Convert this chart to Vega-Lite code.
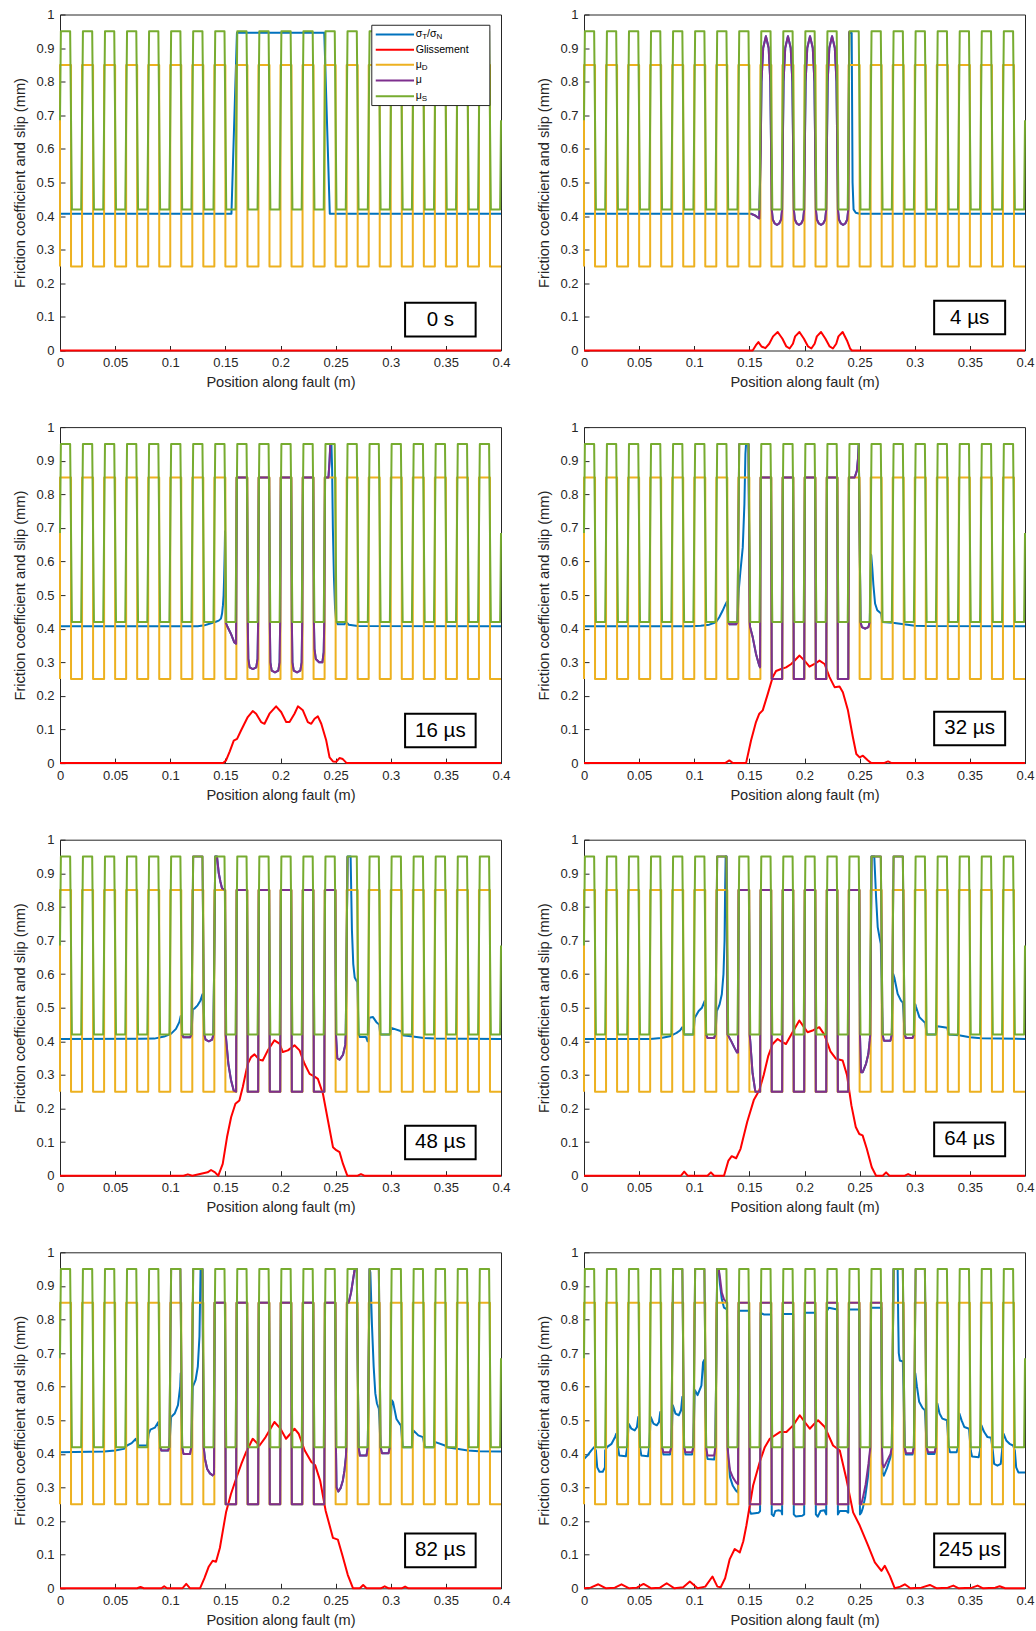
{
"$schema": "https://vega.github.io/schema/vega-lite/v6.json",
"padding": {"left": 12, "top": 7.5, "right": 0, "bottom": 0},
"background": "white",
"bounds": "flush",
"columns": 2,
"spacing": {"row": 76.6, "column": 83},
"datasets": {
"muS": [{"x":0,"y":0.685},
{"x":0.0008,"y":0.95},{"x":0.0092,"y":0.95},{"x":0.0108,"y":0.42},{"x":0.0192,"y":0.42},
{"x":0.0208,"y":0.95},{"x":0.0292,"y":0.95},{"x":0.0308,"y":0.42},{"x":0.0392,"y":0.42},
{"x":0.0408,"y":0.95},{"x":0.0492,"y":0.95},{"x":0.0508,"y":0.42},{"x":0.0592,"y":0.42},
{"x":0.0608,"y":0.95},{"x":0.0692,"y":0.95},{"x":0.0708,"y":0.42},{"x":0.0792,"y":0.42},
{"x":0.0808,"y":0.95},{"x":0.0892,"y":0.95},{"x":0.0908,"y":0.42},{"x":0.0992,"y":0.42},
{"x":0.1008,"y":0.95},{"x":0.1092,"y":0.95},{"x":0.1108,"y":0.42},{"x":0.1192,"y":0.42},
{"x":0.1208,"y":0.95},{"x":0.1292,"y":0.95},{"x":0.1308,"y":0.42},{"x":0.1392,"y":0.42},
{"x":0.1408,"y":0.95},{"x":0.1492,"y":0.95},{"x":0.1508,"y":0.42},{"x":0.1592,"y":0.42},
{"x":0.1608,"y":0.95},{"x":0.1692,"y":0.95},{"x":0.1708,"y":0.42},{"x":0.1792,"y":0.42},
{"x":0.1808,"y":0.95},{"x":0.1892,"y":0.95},{"x":0.1908,"y":0.42},{"x":0.1992,"y":0.42},
{"x":0.2008,"y":0.95},{"x":0.2092,"y":0.95},{"x":0.2108,"y":0.42},{"x":0.2192,"y":0.42},
{"x":0.2208,"y":0.95},{"x":0.2292,"y":0.95},{"x":0.2308,"y":0.42},{"x":0.2392,"y":0.42},
{"x":0.2408,"y":0.95},{"x":0.2492,"y":0.95},{"x":0.2508,"y":0.42},{"x":0.2592,"y":0.42},
{"x":0.2608,"y":0.95},{"x":0.2692,"y":0.95},{"x":0.2708,"y":0.42},{"x":0.2792,"y":0.42},
{"x":0.2808,"y":0.95},{"x":0.2892,"y":0.95},{"x":0.2908,"y":0.42},{"x":0.2992,"y":0.42},
{"x":0.3008,"y":0.95},{"x":0.3092,"y":0.95},{"x":0.3108,"y":0.42},{"x":0.3192,"y":0.42},
{"x":0.3208,"y":0.95},{"x":0.3292,"y":0.95},{"x":0.3308,"y":0.42},{"x":0.3392,"y":0.42},
{"x":0.3408,"y":0.95},{"x":0.3492,"y":0.95},{"x":0.3508,"y":0.42},{"x":0.3592,"y":0.42},
{"x":0.3608,"y":0.95},{"x":0.3692,"y":0.95},{"x":0.3708,"y":0.42},{"x":0.3792,"y":0.42},
{"x":0.3808,"y":0.95},{"x":0.3892,"y":0.95},{"x":0.3908,"y":0.42},{"x":0.3992,"y":0.42},
{"x":0.4,"y":0.685}],
"muD": [{"x":0,"y":0.25},{"x":0,"y":0.85},{"x":0.01,"y":0.85},{"x":0.01,"y":0.25},
{"x":0.02,"y":0.25},{"x":0.02,"y":0.85},{"x":0.03,"y":0.85},{"x":0.03,"y":0.25},
{"x":0.04,"y":0.25},{"x":0.04,"y":0.85},{"x":0.05,"y":0.85},{"x":0.05,"y":0.25},
{"x":0.06,"y":0.25},{"x":0.06,"y":0.85},{"x":0.07,"y":0.85},{"x":0.07,"y":0.25},
{"x":0.08,"y":0.25},{"x":0.08,"y":0.85},{"x":0.09,"y":0.85},{"x":0.09,"y":0.25},
{"x":0.1,"y":0.25},{"x":0.1,"y":0.85},{"x":0.11,"y":0.85},{"x":0.11,"y":0.25},
{"x":0.12,"y":0.25},{"x":0.12,"y":0.85},{"x":0.13,"y":0.85},{"x":0.13,"y":0.25},
{"x":0.14,"y":0.25},{"x":0.14,"y":0.85},{"x":0.15,"y":0.85},{"x":0.15,"y":0.25},
{"x":0.16,"y":0.25},{"x":0.16,"y":0.85},{"x":0.17,"y":0.85},{"x":0.17,"y":0.25},
{"x":0.18,"y":0.25},{"x":0.18,"y":0.85},{"x":0.19,"y":0.85},{"x":0.19,"y":0.25},
{"x":0.2,"y":0.25},{"x":0.2,"y":0.85},{"x":0.21,"y":0.85},{"x":0.21,"y":0.25},
{"x":0.22,"y":0.25},{"x":0.22,"y":0.85},{"x":0.23,"y":0.85},{"x":0.23,"y":0.25},
{"x":0.24,"y":0.25},{"x":0.24,"y":0.85},{"x":0.25,"y":0.85},{"x":0.25,"y":0.25},
{"x":0.26,"y":0.25},{"x":0.26,"y":0.85},{"x":0.27,"y":0.85},{"x":0.27,"y":0.25},
{"x":0.28,"y":0.25},{"x":0.28,"y":0.85},{"x":0.29,"y":0.85},{"x":0.29,"y":0.25},
{"x":0.3,"y":0.25},{"x":0.3,"y":0.85},{"x":0.31,"y":0.85},{"x":0.31,"y":0.25},
{"x":0.32,"y":0.25},{"x":0.32,"y":0.85},{"x":0.33,"y":0.85},{"x":0.33,"y":0.25},
{"x":0.34,"y":0.25},{"x":0.34,"y":0.85},{"x":0.35,"y":0.85},{"x":0.35,"y":0.25},
{"x":0.36,"y":0.25},{"x":0.36,"y":0.85},{"x":0.37,"y":0.85},{"x":0.37,"y":0.25},
{"x":0.38,"y":0.25},{"x":0.38,"y":0.85},{"x":0.39,"y":0.85},{"x":0.39,"y":0.25},
{"x":0.4,"y":0.25}],
"s1": [{"x":0,"y":0.407},{"x":0.1555,"y":0.407},{"x":0.1605,"y":0.946},{"x":0.2397,"y":0.946},{"x":0.2447,"y":0.407},{"x":0.4,"y":0.407}],
"r1": [{"x":0,"y":0},{"x":0.4,"y":0}],
"m2": [{"x":0.1515,"y":0.407},{"x":0.155,"y":0.402},{"x":0.159,"y":0.393},
{"x":0.1603,"y":0.6},{"x":0.161,"y":0.8},{"x":0.1625,"y":0.9},{"x":0.165,"y":0.935},{"x":0.1675,"y":0.9},{"x":0.169,"y":0.8},{"x":0.1697,"y":0.6},
{"x":0.1703,"y":0.42},{"x":0.1712,"y":0.39},{"x":0.173,"y":0.378},{"x":0.175,"y":0.374},{"x":0.177,"y":0.378},{"x":0.1788,"y":0.39},{"x":0.1797,"y":0.42},
{"x":0.1803,"y":0.6},{"x":0.181,"y":0.8},{"x":0.1825,"y":0.9},{"x":0.185,"y":0.935},{"x":0.1875,"y":0.9},{"x":0.189,"y":0.8},{"x":0.1897,"y":0.6},
{"x":0.1903,"y":0.42},{"x":0.1912,"y":0.39},{"x":0.193,"y":0.378},{"x":0.195,"y":0.374},{"x":0.197,"y":0.378},{"x":0.1988,"y":0.39},{"x":0.1997,"y":0.42},
{"x":0.2003,"y":0.6},{"x":0.201,"y":0.8},{"x":0.2025,"y":0.9},{"x":0.205,"y":0.935},{"x":0.2075,"y":0.9},{"x":0.209,"y":0.8},{"x":0.2097,"y":0.6},
{"x":0.2103,"y":0.42},{"x":0.2112,"y":0.39},{"x":0.213,"y":0.378},{"x":0.215,"y":0.374},{"x":0.217,"y":0.378},{"x":0.2188,"y":0.39},{"x":0.2197,"y":0.42},
{"x":0.2203,"y":0.6},{"x":0.221,"y":0.8},{"x":0.2225,"y":0.9},{"x":0.225,"y":0.935},{"x":0.2275,"y":0.9},{"x":0.229,"y":0.8},{"x":0.2297,"y":0.6},
{"x":0.2303,"y":0.42},{"x":0.2312,"y":0.39},{"x":0.233,"y":0.378},{"x":0.235,"y":0.374},{"x":0.237,"y":0.378},{"x":0.2388,"y":0.39},{"x":0.2397,"y":0.42},
{"x":0.2405,"y":0.95}],
"s2": [{"x":0,"y":0.407},{"x":0.1515,"y":0.407},{"x":0.155,"y":0.402},{"x":0.159,"y":0.393},
{"x":0.1603,"y":0.6},{"x":0.161,"y":0.8},{"x":0.1625,"y":0.9},{"x":0.165,"y":0.935},{"x":0.1675,"y":0.9},{"x":0.169,"y":0.8},{"x":0.1697,"y":0.6},
{"x":0.1703,"y":0.42},{"x":0.1712,"y":0.39},{"x":0.173,"y":0.378},{"x":0.175,"y":0.374},{"x":0.177,"y":0.378},{"x":0.1788,"y":0.39},{"x":0.1797,"y":0.42},
{"x":0.1803,"y":0.6},{"x":0.181,"y":0.8},{"x":0.1825,"y":0.9},{"x":0.185,"y":0.935},{"x":0.1875,"y":0.9},{"x":0.189,"y":0.8},{"x":0.1897,"y":0.6},
{"x":0.1903,"y":0.42},{"x":0.1912,"y":0.39},{"x":0.193,"y":0.378},{"x":0.195,"y":0.374},{"x":0.197,"y":0.378},{"x":0.1988,"y":0.39},{"x":0.1997,"y":0.42},
{"x":0.2003,"y":0.6},{"x":0.201,"y":0.8},{"x":0.2025,"y":0.9},{"x":0.205,"y":0.935},{"x":0.2075,"y":0.9},{"x":0.209,"y":0.8},{"x":0.2097,"y":0.6},
{"x":0.2103,"y":0.42},{"x":0.2112,"y":0.39},{"x":0.213,"y":0.378},{"x":0.215,"y":0.374},{"x":0.217,"y":0.378},{"x":0.2188,"y":0.39},{"x":0.2197,"y":0.42},
{"x":0.2203,"y":0.6},{"x":0.221,"y":0.8},{"x":0.2225,"y":0.9},{"x":0.225,"y":0.935},{"x":0.2275,"y":0.9},{"x":0.229,"y":0.8},{"x":0.2297,"y":0.6},
{"x":0.2303,"y":0.42},{"x":0.2312,"y":0.39},{"x":0.233,"y":0.378},{"x":0.235,"y":0.374},{"x":0.237,"y":0.378},{"x":0.2388,"y":0.39},{"x":0.2397,"y":0.42},
{"x":0.2405,"y":0.945},{"x":0.2428,"y":0.945},{"x":0.2436,"y":0.5},{"x":0.2445,"y":0.42},{"x":0.2465,"y":0.41},{"x":0.25,"y":0.407},{"x":0.4,"y":0.407}],
"r2": [{"x":0,"y":0},{"x":0.153,"y":0},{"x":0.1558,"y":0.015},{"x":0.1582,"y":0.025},{"x":0.161,"y":0.012},{"x":0.1645,"y":0.007},{"x":0.168,"y":0.02},{"x":0.1715,"y":0.042},{"x":0.1757,"y":0.055},{"x":0.18,"y":0.035},{"x":0.1835,"y":0.012},{"x":0.1865,"y":0.006},{"x":0.1895,"y":0.02},{"x":0.1915,"y":0.042},{"x":0.1954,"y":0.055},{"x":0.1995,"y":0.035},{"x":0.2032,"y":0.012},{"x":0.2062,"y":0.006},{"x":0.2092,"y":0.02},{"x":0.2112,"y":0.042},{"x":0.215,"y":0.055},{"x":0.219,"y":0.035},{"x":0.2228,"y":0.012},{"x":0.2258,"y":0.006},{"x":0.2288,"y":0.02},{"x":0.2308,"y":0.042},{"x":0.2346,"y":0.055},{"x":0.2385,"y":0.03},{"x":0.2415,"y":0.005},{"x":0.243,"y":0},{"x":0.4,"y":0}],
"m3": [{"x":0.1503,"y":0.418},{"x":0.152,"y":0.405},{"x":0.155,"y":0.385},{"x":0.158,"y":0.36},{"x":0.1597,"y":0.355},
{"x":0.1603,"y":0.85},{"x":0.1697,"y":0.85},
{"x":0.1703,"y":0.42},{"x":0.1708,"y":0.31},{"x":0.172,"y":0.285},{"x":0.175,"y":0.28},{"x":0.178,"y":0.285},{"x":0.1792,"y":0.31},{"x":0.1797,"y":0.42},
{"x":0.1803,"y":0.85},{"x":0.1897,"y":0.85},
{"x":0.1903,"y":0.42},{"x":0.1908,"y":0.3},{"x":0.192,"y":0.275},{"x":0.195,"y":0.27},{"x":0.198,"y":0.275},{"x":0.1992,"y":0.3},{"x":0.1997,"y":0.42},
{"x":0.2003,"y":0.85},{"x":0.2097,"y":0.85},
{"x":0.2103,"y":0.42},{"x":0.2108,"y":0.3},{"x":0.212,"y":0.275},{"x":0.215,"y":0.27},{"x":0.218,"y":0.275},{"x":0.2192,"y":0.3},{"x":0.2197,"y":0.42},
{"x":0.2203,"y":0.85},{"x":0.2297,"y":0.85},
{"x":0.2303,"y":0.42},{"x":0.2308,"y":0.34},{"x":0.232,"y":0.31},{"x":0.235,"y":0.3},{"x":0.238,"y":0.3},{"x":0.2392,"y":0.33},{"x":0.2397,"y":0.42},
{"x":0.2403,"y":0.85},{"x":0.2435,"y":0.85},{"x":0.2445,"y":0.9},{"x":0.2452,"y":0.95}],
"s3": [{"x":0,"y":0.407},{"x":0.125,"y":0.407},{"x":0.131,"y":0.41},{"x":0.137,"y":0.416},{"x":0.1408,"y":0.42},{"x":0.144,"y":0.424},{"x":0.146,"y":0.43},{"x":0.147,"y":0.445},{"x":0.1478,"y":0.47},{"x":0.1484,"y":0.5},{"x":0.1488,"y":0.543},{"x":0.1492,"y":0.6},{"x":0.1495,"y":0.65},{"x":0.1497,"y":0.69},
{"x":0.1503,"y":0.418},{"x":0.152,"y":0.405},{"x":0.155,"y":0.385},{"x":0.158,"y":0.36},{"x":0.1597,"y":0.355},
{"x":0.1603,"y":0.85},{"x":0.1697,"y":0.85},
{"x":0.1703,"y":0.42},{"x":0.1708,"y":0.31},{"x":0.172,"y":0.285},{"x":0.175,"y":0.28},{"x":0.178,"y":0.285},{"x":0.1792,"y":0.31},{"x":0.1797,"y":0.42},
{"x":0.1803,"y":0.85},{"x":0.1897,"y":0.85},
{"x":0.1903,"y":0.42},{"x":0.1908,"y":0.3},{"x":0.192,"y":0.275},{"x":0.195,"y":0.27},{"x":0.198,"y":0.275},{"x":0.1992,"y":0.3},{"x":0.1997,"y":0.42},
{"x":0.2003,"y":0.85},{"x":0.2097,"y":0.85},
{"x":0.2103,"y":0.42},{"x":0.2108,"y":0.3},{"x":0.212,"y":0.275},{"x":0.215,"y":0.27},{"x":0.218,"y":0.275},{"x":0.2192,"y":0.3},{"x":0.2197,"y":0.42},
{"x":0.2203,"y":0.85},{"x":0.2297,"y":0.85},
{"x":0.2303,"y":0.42},{"x":0.2308,"y":0.34},{"x":0.232,"y":0.31},{"x":0.235,"y":0.3},{"x":0.238,"y":0.3},{"x":0.2392,"y":0.33},{"x":0.2397,"y":0.42},
{"x":0.2403,"y":0.85},{"x":0.2435,"y":0.85},{"x":0.2445,"y":0.9},{"x":0.2452,"y":0.95},
{"x":0.2462,"y":0.95},{"x":0.2468,"y":0.88},{"x":0.2475,"y":0.7},{"x":0.2485,"y":0.55},{"x":0.2495,"y":0.46},{"x":0.2505,"y":0.42},{"x":0.252,"y":0.413},{"x":0.258,"y":0.413},{"x":0.2595,"y":0.42},{"x":0.262,"y":0.412},{"x":0.27,"y":0.408},{"x":0.4,"y":0.407}],
"r3": [{"x":0,"y":0},{"x":0.148,"y":0},{"x":0.1506,"y":0.008},{"x":0.154,"y":0.035},{"x":0.1576,"y":0.067},{"x":0.1606,"y":0.072},{"x":0.1642,"y":0.097},{"x":0.1703,"y":0.137},{"x":0.1748,"y":0.155},{"x":0.1779,"y":0.147},{"x":0.1824,"y":0.122},{"x":0.1855,"y":0.117},{"x":0.19,"y":0.147},{"x":0.196,"y":0.169},{"x":0.2006,"y":0.152},{"x":0.2052,"y":0.122},{"x":0.2082,"y":0.122},{"x":0.2127,"y":0.147},{"x":0.2158,"y":0.169},{"x":0.2203,"y":0.157},{"x":0.2248,"y":0.122},{"x":0.2279,"y":0.117},{"x":0.2309,"y":0.132},{"x":0.2339,"y":0.139},{"x":0.237,"y":0.117},{"x":0.2415,"y":0.067},{"x":0.2445,"y":0.017},{"x":0.2476,"y":0.005},{"x":0.2505,"y":0.004},{"x":0.2535,"y":0.015},{"x":0.2565,"y":0.012},{"x":0.26,"y":0},{"x":0.4,"y":0}],
"m4": [{"x":0.1308,"y":0.42},{"x":0.132,"y":0.413},{"x":0.138,"y":0.413},{"x":0.1392,"y":0.42},{"x":0.1408,"y":0.95},{"x":0.1492,"y":0.95},
{"x":0.1503,"y":0.42},{"x":0.1506,"y":0.405},{"x":0.153,"y":0.375},{"x":0.156,"y":0.325},{"x":0.159,"y":0.29},{"x":0.1597,"y":0.285},
{"x":0.1603,"y":0.85},{"x":0.1697,"y":0.85},{"x":0.1703,"y":0.25},{"x":0.1797,"y":0.25},
{"x":0.1803,"y":0.85},{"x":0.1897,"y":0.85},{"x":0.1903,"y":0.25},{"x":0.1997,"y":0.25},
{"x":0.2003,"y":0.85},{"x":0.2097,"y":0.85},{"x":0.2103,"y":0.25},{"x":0.2197,"y":0.25},
{"x":0.2203,"y":0.85},{"x":0.2297,"y":0.85},{"x":0.2303,"y":0.25},{"x":0.2397,"y":0.25},
{"x":0.2403,"y":0.85},{"x":0.2455,"y":0.85},{"x":0.2475,"y":0.87},{"x":0.2485,"y":0.905},{"x":0.2492,"y":0.95},
{"x":0.2508,"y":0.42},{"x":0.252,"y":0.405},{"x":0.255,"y":0.4},{"x":0.258,"y":0.405},{"x":0.2592,"y":0.42}],
"s4": [{"x":0,"y":0.407},{"x":0.097,"y":0.4075},{"x":0.106,"y":0.409},{"x":0.1136,"y":0.412},{"x":0.1197,"y":0.419},{"x":0.1227,"y":0.434},{"x":0.1258,"y":0.454},{"x":0.128,"y":0.47},{"x":0.1295,"y":0.48},{"x":0.1308,"y":0.42},{"x":0.132,"y":0.413},{"x":0.138,"y":0.413},{"x":0.1392,"y":0.42},{"x":0.1405,"y":0.52},{"x":0.1418,"y":0.568},{"x":0.144,"y":0.642},{"x":0.1455,"y":0.772},{"x":0.1464,"y":0.92},{"x":0.147,"y":0.95},{"x":0.1492,"y":0.95},
{"x":0.1503,"y":0.42},{"x":0.1506,"y":0.405},{"x":0.153,"y":0.375},{"x":0.156,"y":0.325},{"x":0.159,"y":0.29},{"x":0.1597,"y":0.285},
{"x":0.1603,"y":0.85},{"x":0.1697,"y":0.85},{"x":0.1703,"y":0.25},{"x":0.1797,"y":0.25},
{"x":0.1803,"y":0.85},{"x":0.1897,"y":0.85},{"x":0.1903,"y":0.25},{"x":0.1997,"y":0.25},
{"x":0.2003,"y":0.85},{"x":0.2097,"y":0.85},{"x":0.2103,"y":0.25},{"x":0.2197,"y":0.25},
{"x":0.2203,"y":0.85},{"x":0.2297,"y":0.85},{"x":0.2303,"y":0.25},{"x":0.2397,"y":0.25},
{"x":0.2403,"y":0.85},{"x":0.2455,"y":0.85},{"x":0.2475,"y":0.87},{"x":0.2485,"y":0.905},{"x":0.2492,"y":0.95},
{"x":0.2508,"y":0.42},{"x":0.252,"y":0.405},{"x":0.255,"y":0.4},{"x":0.258,"y":0.405},{"x":0.2592,"y":0.42},
{"x":0.2605,"y":0.62},{"x":0.2615,"y":0.58},{"x":0.2625,"y":0.53},{"x":0.264,"y":0.475},{"x":0.266,"y":0.455},{"x":0.2695,"y":0.445},{"x":0.2705,"y":0.42},{"x":0.28,"y":0.418},{"x":0.29,"y":0.413},{"x":0.3,"y":0.409},{"x":0.31,"y":0.408},{"x":0.4,"y":0.407}],
"r4": [{"x":0,"y":0},{"x":0.128,"y":0},{"x":0.1318,"y":0.008},{"x":0.135,"y":0},{"x":0.147,"y":0},{"x":0.1515,"y":0.067},{"x":0.156,"y":0.122},{"x":0.159,"y":0.147},{"x":0.1621,"y":0.157},{"x":0.1667,"y":0.206},{"x":0.1712,"y":0.256},{"x":0.1742,"y":0.274},{"x":0.1788,"y":0.28},{"x":0.1833,"y":0.285},{"x":0.188,"y":0.295},{"x":0.1924,"y":0.31},{"x":0.1955,"y":0.32},{"x":0.2,"y":0.305},{"x":0.2045,"y":0.287},{"x":0.2091,"y":0.295},{"x":0.2136,"y":0.305},{"x":0.2182,"y":0.295},{"x":0.2227,"y":0.256},{"x":0.2273,"y":0.226},{"x":0.2318,"y":0.228},{"x":0.2348,"y":0.211},{"x":0.2394,"y":0.157},{"x":0.2439,"y":0.077},{"x":0.247,"y":0.027},{"x":0.25,"y":0.017},{"x":0.253,"y":0.022},{"x":0.2576,"y":0.008},{"x":0.2606,"y":0},{"x":0.272,"y":0},{"x":0.2758,"y":0.005},{"x":0.279,"y":0},{"x":0.4,"y":0}],
"m5": [{"x":0.1108,"y":0.42},{"x":0.112,"y":0.412},{"x":0.118,"y":0.412},{"x":0.1192,"y":0.42},{"x":0.1208,"y":0.95},{"x":0.1292,"y":0.95},{"x":0.1308,"y":0.42},{"x":0.132,"y":0.405},{"x":0.135,"y":0.4},{"x":0.138,"y":0.405},{"x":0.1392,"y":0.42},{"x":0.1408,"y":0.95},{"x":0.1424,"y":0.95},{"x":0.144,"y":0.9},{"x":0.1455,"y":0.875},{"x":0.147,"y":0.855},{"x":0.1497,"y":0.85},
{"x":0.1503,"y":0.42},{"x":0.1527,"y":0.333},{"x":0.1552,"y":0.283},{"x":0.1576,"y":0.253},{"x":0.1597,"y":0.25},
{"x":0.1603,"y":0.85},{"x":0.1697,"y":0.85},{"x":0.1703,"y":0.25},{"x":0.1797,"y":0.25},
{"x":0.1803,"y":0.85},{"x":0.1897,"y":0.85},{"x":0.1903,"y":0.25},{"x":0.1997,"y":0.25},
{"x":0.2003,"y":0.85},{"x":0.2097,"y":0.85},{"x":0.2103,"y":0.25},{"x":0.2197,"y":0.25},
{"x":0.2203,"y":0.85},{"x":0.2297,"y":0.85},{"x":0.2303,"y":0.25},{"x":0.2397,"y":0.25},
{"x":0.2403,"y":0.85},{"x":0.2497,"y":0.85},
{"x":0.2503,"y":0.42},{"x":0.2515,"y":0.35},{"x":0.2536,"y":0.345},{"x":0.2567,"y":0.36},{"x":0.2588,"y":0.39},{"x":0.2592,"y":0.42},{"x":0.2608,"y":0.95}],
"s5": [{"x":0,"y":0.407},{"x":0.0733,"y":0.4075},{"x":0.0855,"y":0.408},{"x":0.0945,"y":0.414},{"x":0.1006,"y":0.422},{"x":0.1052,"y":0.437},{"x":0.1082,"y":0.457},{"x":0.1095,"y":0.475},{"x":0.1108,"y":0.42},{"x":0.112,"y":0.412},{"x":0.118,"y":0.412},{"x":0.1192,"y":0.42},{"x":0.1205,"y":0.495},{"x":0.1218,"y":0.497},{"x":0.1248,"y":0.507},{"x":0.1273,"y":0.521},{"x":0.1292,"y":0.54},{"x":0.1308,"y":0.42},{"x":0.132,"y":0.405},{"x":0.135,"y":0.4},{"x":0.138,"y":0.405},{"x":0.1392,"y":0.42},{"x":0.1408,"y":0.95},{"x":0.1424,"y":0.95},{"x":0.144,"y":0.9},{"x":0.1455,"y":0.875},{"x":0.147,"y":0.855},{"x":0.1497,"y":0.85},
{"x":0.1503,"y":0.42},{"x":0.1527,"y":0.333},{"x":0.1552,"y":0.283},{"x":0.1576,"y":0.253},{"x":0.1597,"y":0.25},
{"x":0.1603,"y":0.85},{"x":0.1697,"y":0.85},{"x":0.1703,"y":0.25},{"x":0.1797,"y":0.25},
{"x":0.1803,"y":0.85},{"x":0.1897,"y":0.85},{"x":0.1903,"y":0.25},{"x":0.1997,"y":0.25},
{"x":0.2003,"y":0.85},{"x":0.2097,"y":0.85},{"x":0.2103,"y":0.25},{"x":0.2197,"y":0.25},
{"x":0.2203,"y":0.85},{"x":0.2297,"y":0.85},{"x":0.2303,"y":0.25},{"x":0.2397,"y":0.25},
{"x":0.2403,"y":0.85},{"x":0.2497,"y":0.85},
{"x":0.2503,"y":0.42},{"x":0.2515,"y":0.35},{"x":0.2536,"y":0.345},{"x":0.2567,"y":0.36},{"x":0.2588,"y":0.39},{"x":0.2592,"y":0.42},{"x":0.2608,"y":0.95},
{"x":0.2636,"y":0.95},{"x":0.2648,"y":0.73},{"x":0.266,"y":0.63},{"x":0.2673,"y":0.59},{"x":0.2697,"y":0.576},{"x":0.2708,"y":0.42},{"x":0.272,"y":0.413},{"x":0.2775,"y":0.413},{"x":0.279,"y":0.4},{"x":0.2797,"y":0.4},{"x":0.2805,"y":0.47},{"x":0.2839,"y":0.472},{"x":0.287,"y":0.457},{"x":0.2895,"y":0.45},{"x":0.2905,"y":0.42},{"x":0.2995,"y":0.42},{"x":0.3005,"y":0.44},{"x":0.3095,"y":0.43},{"x":0.3105,"y":0.418},{"x":0.32,"y":0.414},{"x":0.33,"y":0.41},{"x":0.34,"y":0.408},{"x":0.4,"y":0.407}],
"r5": [{"x":0,"y":0},{"x":0.112,"y":0},{"x":0.116,"y":0.004},{"x":0.12,"y":0},{"x":0.1339,"y":0.01},{"x":0.137,"y":0.017},{"x":0.1406,"y":0.01},{"x":0.1436,"y":0},{"x":0.1476,"y":0.035},{"x":0.1515,"y":0.115},{"x":0.1552,"y":0.174},{"x":0.1591,"y":0.214},{"x":0.1627,"y":0.224},{"x":0.1658,"y":0.264},{"x":0.1703,"y":0.333},{"x":0.1733,"y":0.353},{"x":0.1764,"y":0.361},{"x":0.1809,"y":0.345},{"x":0.1839,"y":0.343},{"x":0.1885,"y":0.373},{"x":0.1945,"y":0.403},{"x":0.1991,"y":0.393},{"x":0.2021,"y":0.368},{"x":0.2067,"y":0.373},{"x":0.2127,"y":0.388},{"x":0.2173,"y":0.373},{"x":0.2218,"y":0.333},{"x":0.2264,"y":0.303},{"x":0.2309,"y":0.295},{"x":0.2339,"y":0.288},{"x":0.2385,"y":0.244},{"x":0.243,"y":0.165},{"x":0.2476,"y":0.085},{"x":0.2506,"y":0.076},{"x":0.2536,"y":0.07},{"x":0.2567,"y":0.035},{"x":0.2606,"y":0},{"x":0.27,"y":0},{"x":0.273,"y":0.005},{"x":0.276,"y":0},{"x":0.4,"y":0}],
"m6": [{"x":0.1108,"y":0.42},{"x":0.112,"y":0.41},{"x":0.118,"y":0.41},{"x":0.1192,"y":0.42},{"x":0.1208,"y":0.95},{"x":0.1292,"y":0.95},
{"x":0.1302,"y":0.42},{"x":0.1333,"y":0.402},{"x":0.1363,"y":0.382},{"x":0.1387,"y":0.367},{"x":0.1397,"y":0.367},
{"x":0.1403,"y":0.85},{"x":0.1497,"y":0.85},
{"x":0.1503,"y":0.42},{"x":0.1508,"y":0.4},{"x":0.1529,"y":0.305},{"x":0.1554,"y":0.25},{"x":0.1597,"y":0.25},
{"x":0.1603,"y":0.85},{"x":0.1697,"y":0.85},{"x":0.1703,"y":0.25},{"x":0.1797,"y":0.25},
{"x":0.1803,"y":0.85},{"x":0.1897,"y":0.85},{"x":0.1903,"y":0.25},{"x":0.1997,"y":0.25},
{"x":0.2003,"y":0.85},{"x":0.2097,"y":0.85},{"x":0.2103,"y":0.25},{"x":0.2197,"y":0.25},
{"x":0.2203,"y":0.85},{"x":0.2297,"y":0.85},{"x":0.2303,"y":0.25},{"x":0.2397,"y":0.25},
{"x":0.2403,"y":0.85},{"x":0.2497,"y":0.85},
{"x":0.2503,"y":0.42},{"x":0.2512,"y":0.308},{"x":0.2528,"y":0.308},{"x":0.2558,"y":0.333},{"x":0.2579,"y":0.362},{"x":0.2592,"y":0.402},{"x":0.2596,"y":0.42},{"x":0.2608,"y":0.95},{"x":0.2692,"y":0.95},{"x":0.2708,"y":0.42},{"x":0.272,"y":0.402},{"x":0.278,"y":0.402},{"x":0.2792,"y":0.42},{"x":0.2808,"y":0.95},{"x":0.2892,"y":0.95},{"x":0.2908,"y":0.42},{"x":0.292,"y":0.41},{"x":0.298,"y":0.41},{"x":0.2992,"y":0.42}],
"s6": [{"x":0,"y":0.407},{"x":0.06,"y":0.407},{"x":0.07,"y":0.41},{"x":0.078,"y":0.415},{"x":0.0808,"y":0.42},{"x":0.084,"y":0.425},{"x":0.087,"y":0.432},{"x":0.0892,"y":0.442},{"x":0.0908,"y":0.42},{"x":0.0992,"y":0.42},{"x":0.1005,"y":0.47},{"x":0.104,"y":0.49},{"x":0.107,"y":0.5},{"x":0.1095,"y":0.52},{"x":0.1108,"y":0.42},{"x":0.112,"y":0.41},{"x":0.118,"y":0.41},{"x":0.1192,"y":0.42},{"x":0.1205,"y":0.49},{"x":0.123,"y":0.51},{"x":0.125,"y":0.54},{"x":0.1265,"y":0.6},{"x":0.1275,"y":0.7},{"x":0.128,"y":0.85},{"x":0.1285,"y":0.95},{"x":0.1292,"y":0.95},
{"x":0.1302,"y":0.42},{"x":0.1333,"y":0.402},{"x":0.1363,"y":0.382},{"x":0.1387,"y":0.367},{"x":0.1397,"y":0.367},
{"x":0.1403,"y":0.85},{"x":0.1497,"y":0.85},
{"x":0.1503,"y":0.42},{"x":0.1508,"y":0.4},{"x":0.1529,"y":0.305},{"x":0.1554,"y":0.25},{"x":0.1597,"y":0.25},
{"x":0.1603,"y":0.85},{"x":0.1697,"y":0.85},{"x":0.1703,"y":0.25},{"x":0.1797,"y":0.25},
{"x":0.1803,"y":0.85},{"x":0.1897,"y":0.85},{"x":0.1903,"y":0.25},{"x":0.1997,"y":0.25},
{"x":0.2003,"y":0.85},{"x":0.2097,"y":0.85},{"x":0.2103,"y":0.25},{"x":0.2197,"y":0.25},
{"x":0.2203,"y":0.85},{"x":0.2297,"y":0.85},{"x":0.2303,"y":0.25},{"x":0.2397,"y":0.25},
{"x":0.2403,"y":0.85},{"x":0.2497,"y":0.85},
{"x":0.2503,"y":0.42},{"x":0.2512,"y":0.308},{"x":0.2528,"y":0.308},{"x":0.2558,"y":0.333},{"x":0.2579,"y":0.362},{"x":0.2592,"y":0.402},{"x":0.2596,"y":0.42},{"x":0.2608,"y":0.95},
{"x":0.2633,"y":0.95},{"x":0.2649,"y":0.83},{"x":0.2664,"y":0.74},{"x":0.268,"y":0.71},{"x":0.2692,"y":0.69},{"x":0.2708,"y":0.42},{"x":0.272,"y":0.402},{"x":0.278,"y":0.402},{"x":0.2792,"y":0.42},{"x":0.2805,"y":0.6},{"x":0.2815,"y":0.59},{"x":0.2845,"y":0.541},{"x":0.2875,"y":0.521},{"x":0.2892,"y":0.515},{"x":0.2908,"y":0.42},{"x":0.292,"y":0.41},{"x":0.298,"y":0.41},{"x":0.2992,"y":0.42},{"x":0.3005,"y":0.51},{"x":0.3012,"y":0.502},{"x":0.3042,"y":0.472},{"x":0.3087,"y":0.457},{"x":0.3095,"y":0.455},{"x":0.3108,"y":0.42},{"x":0.3192,"y":0.42},{"x":0.3205,"y":0.445},{"x":0.3295,"y":0.44},{"x":0.3308,"y":0.42},{"x":0.34,"y":0.418},{"x":0.35,"y":0.412},{"x":0.36,"y":0.409},{"x":0.4,"y":0.407}],
"r6": [{"x":0,"y":0},{"x":0.088,"y":0},{"x":0.0909,"y":0.012},{"x":0.094,"y":0},{"x":0.112,"y":0},{"x":0.1151,"y":0.01},{"x":0.118,"y":0},{"x":0.127,"y":0},{"x":0.131,"y":0.045},{"x":0.134,"y":0.058},{"x":0.138,"y":0.052},{"x":0.142,"y":0.08},{"x":0.148,"y":0.16},{"x":0.154,"y":0.225},{"x":0.159,"y":0.254},{"x":0.163,"y":0.3},{"x":0.167,"y":0.355},{"x":0.1711,"y":0.392},{"x":0.1756,"y":0.407},{"x":0.1795,"y":0.398},{"x":0.1832,"y":0.392},{"x":0.188,"y":0.42},{"x":0.1953,"y":0.462},{"x":0.2,"y":0.44},{"x":0.2028,"y":0.427},{"x":0.208,"y":0.433},{"x":0.2134,"y":0.442},{"x":0.218,"y":0.42},{"x":0.2235,"y":0.37},{"x":0.2286,"y":0.348},{"x":0.2346,"y":0.343},{"x":0.2385,"y":0.3},{"x":0.2425,"y":0.21},{"x":0.2465,"y":0.145},{"x":0.2497,"y":0.124},{"x":0.2527,"y":0.12},{"x":0.2565,"y":0.08},{"x":0.261,"y":0.025},{"x":0.2649,"y":0},{"x":0.271,"y":0},{"x":0.274,"y":0.01},{"x":0.277,"y":0},{"x":0.291,"y":0},{"x":0.294,"y":0.005},{"x":0.297,"y":0},{"x":0.4,"y":0}],
"m7": [{"x":0.0908,"y":0.42},{"x":0.092,"y":0.41},{"x":0.098,"y":0.41},{"x":0.0992,"y":0.42},{"x":0.1008,"y":0.95},{"x":0.1092,"y":0.95},{"x":0.1108,"y":0.42},{"x":0.112,"y":0.4},{"x":0.118,"y":0.4},{"x":0.1192,"y":0.42},{"x":0.1208,"y":0.95},{"x":0.1292,"y":0.95},
{"x":0.1303,"y":0.42},{"x":0.1315,"y":0.385},{"x":0.1335,"y":0.355},{"x":0.136,"y":0.342},{"x":0.1385,"y":0.336},{"x":0.1397,"y":0.34},
{"x":0.1403,"y":0.85},{"x":0.1497,"y":0.85},{"x":0.1503,"y":0.25},{"x":0.1597,"y":0.25},
{"x":0.1603,"y":0.85},{"x":0.1697,"y":0.85},{"x":0.1703,"y":0.25},{"x":0.1797,"y":0.25},
{"x":0.1803,"y":0.85},{"x":0.1897,"y":0.85},{"x":0.1903,"y":0.25},{"x":0.1997,"y":0.25},
{"x":0.2003,"y":0.85},{"x":0.2097,"y":0.85},{"x":0.2103,"y":0.25},{"x":0.2197,"y":0.25},
{"x":0.2203,"y":0.85},{"x":0.2297,"y":0.85},{"x":0.2303,"y":0.25},{"x":0.2397,"y":0.25},
{"x":0.2403,"y":0.85},{"x":0.2497,"y":0.85},
{"x":0.2503,"y":0.42},{"x":0.2508,"y":0.3},{"x":0.2525,"y":0.288},{"x":0.2545,"y":0.298},{"x":0.2565,"y":0.32},{"x":0.258,"y":0.35},{"x":0.2593,"y":0.39},{"x":0.2597,"y":0.42},
{"x":0.2603,"y":0.85},{"x":0.2618,"y":0.85},{"x":0.264,"y":0.88},{"x":0.2673,"y":0.95},{"x":0.2692,"y":0.95},
{"x":0.2708,"y":0.42},{"x":0.272,"y":0.395},{"x":0.278,"y":0.395},{"x":0.2792,"y":0.42},{"x":0.2808,"y":0.95},{"x":0.2892,"y":0.95},{"x":0.2908,"y":0.42},{"x":0.292,"y":0.402},{"x":0.298,"y":0.402},{"x":0.2992,"y":0.42}],
"s7": [{"x":0,"y":0.405},{"x":0.04,"y":0.407},{"x":0.05,"y":0.41},{"x":0.058,"y":0.415},{"x":0.0608,"y":0.425},{"x":0.065,"y":0.432},{"x":0.0688,"y":0.445},{"x":0.0708,"y":0.425},{"x":0.0792,"y":0.425},{"x":0.0805,"y":0.46},{"x":0.082,"y":0.472},{"x":0.086,"y":0.478},{"x":0.0892,"y":0.495},{"x":0.0908,"y":0.42},{"x":0.092,"y":0.41},{"x":0.098,"y":0.41},{"x":0.0992,"y":0.42},{"x":0.1008,"y":0.51},{"x":0.104,"y":0.52},{"x":0.107,"y":0.545},{"x":0.109,"y":0.6},{"x":0.1095,"y":0.64},{"x":0.1108,"y":0.42},{"x":0.112,"y":0.4},{"x":0.118,"y":0.4},{"x":0.1192,"y":0.42},{"x":0.1205,"y":0.6},{"x":0.123,"y":0.62},{"x":0.125,"y":0.66},{"x":0.1265,"y":0.75},{"x":0.127,"y":0.85},{"x":0.1275,"y":0.95},{"x":0.1292,"y":0.95},
{"x":0.1303,"y":0.42},{"x":0.1315,"y":0.385},{"x":0.1335,"y":0.355},{"x":0.136,"y":0.342},{"x":0.1385,"y":0.336},{"x":0.1397,"y":0.34},
{"x":0.1403,"y":0.85},{"x":0.1497,"y":0.85},{"x":0.1503,"y":0.25},{"x":0.1597,"y":0.25},
{"x":0.1603,"y":0.85},{"x":0.1697,"y":0.85},{"x":0.1703,"y":0.25},{"x":0.1797,"y":0.25},
{"x":0.1803,"y":0.85},{"x":0.1897,"y":0.85},{"x":0.1903,"y":0.25},{"x":0.1997,"y":0.25},
{"x":0.2003,"y":0.85},{"x":0.2097,"y":0.85},{"x":0.2103,"y":0.25},{"x":0.2197,"y":0.25},
{"x":0.2203,"y":0.85},{"x":0.2297,"y":0.85},{"x":0.2303,"y":0.25},{"x":0.2397,"y":0.25},
{"x":0.2403,"y":0.85},{"x":0.2497,"y":0.85},
{"x":0.2503,"y":0.42},{"x":0.2508,"y":0.3},{"x":0.2525,"y":0.288},{"x":0.2545,"y":0.298},{"x":0.2565,"y":0.32},{"x":0.258,"y":0.35},{"x":0.2593,"y":0.39},{"x":0.2597,"y":0.42},
{"x":0.2603,"y":0.85},{"x":0.2618,"y":0.85},{"x":0.264,"y":0.88},{"x":0.2673,"y":0.95},{"x":0.2692,"y":0.95},
{"x":0.2708,"y":0.42},{"x":0.272,"y":0.395},{"x":0.278,"y":0.395},{"x":0.2792,"y":0.42},{"x":0.2808,"y":0.95},{"x":0.2815,"y":0.94},{"x":0.283,"y":0.78},{"x":0.2845,"y":0.66},{"x":0.286,"y":0.58},{"x":0.2875,"y":0.55},{"x":0.2892,"y":0.535},{"x":0.2908,"y":0.42},{"x":0.292,"y":0.402},{"x":0.298,"y":0.402},{"x":0.2992,"y":0.42},{"x":0.3008,"y":0.56},{"x":0.3021,"y":0.554},{"x":0.3052,"y":0.504},{"x":0.3082,"y":0.489},{"x":0.3092,"y":0.485},{"x":0.3108,"y":0.42},{"x":0.3192,"y":0.42},{"x":0.3205,"y":0.47},{"x":0.325,"y":0.455},{"x":0.3292,"y":0.45},{"x":0.3308,"y":0.42},{"x":0.3392,"y":0.42},{"x":0.3405,"y":0.435},{"x":0.3492,"y":0.425},{"x":0.3508,"y":0.42},{"x":0.36,"y":0.415},{"x":0.37,"y":0.41},{"x":0.38,"y":0.408},{"x":0.4,"y":0.407}],
"r7": [{"x":0,"y":0},{"x":0.07,"y":0},{"x":0.073,"y":0.004},{"x":0.076,"y":0},{"x":0.092,"y":0},{"x":0.0945,"y":0.006},{"x":0.097,"y":0},{"x":0.111,"y":0},{"x":0.1145,"y":0.013},{"x":0.118,"y":0},{"x":0.127,"y":0},{"x":0.131,"y":0.03},{"x":0.135,"y":0.065},{"x":0.1385,"y":0.082},{"x":0.1415,"y":0.079},{"x":0.145,"y":0.12},{"x":0.1506,"y":0.226},{"x":0.155,"y":0.28},{"x":0.1597,"y":0.326},{"x":0.1645,"y":0.37},{"x":0.1688,"y":0.405},{"x":0.1748,"y":0.445},{"x":0.181,"y":0.425},{"x":0.1865,"y":0.45},{"x":0.1945,"y":0.495},{"x":0.2,"y":0.475},{"x":0.205,"y":0.445},{"x":0.209,"y":0.46},{"x":0.2127,"y":0.475},{"x":0.2165,"y":0.46},{"x":0.222,"y":0.41},{"x":0.228,"y":0.376},{"x":0.2315,"y":0.366},{"x":0.236,"y":0.32},{"x":0.241,"y":0.23},{"x":0.2476,"y":0.15},{"x":0.252,"y":0.145},{"x":0.256,"y":0.1},{"x":0.261,"y":0.04},{"x":0.2658,"y":0},{"x":0.272,"y":0},{"x":0.275,"y":0.01},{"x":0.278,"y":0},{"x":0.291,"y":0},{"x":0.2945,"y":0.006},{"x":0.298,"y":0},{"x":0.31,"y":0},{"x":0.313,"y":0.005},{"x":0.316,"y":0},{"x":0.4,"y":0}],
"m8": [{"x":0.0708,"y":0.42},{"x":0.072,"y":0.405},{"x":0.078,"y":0.405},{"x":0.0792,"y":0.42},{"x":0.0808,"y":0.95},{"x":0.0892,"y":0.95},{"x":0.0908,"y":0.42},{"x":0.092,"y":0.405},{"x":0.098,"y":0.405},{"x":0.0992,"y":0.42},{"x":0.1008,"y":0.95},{"x":0.1092,"y":0.95},{"x":0.1108,"y":0.42},{"x":0.112,"y":0.395},{"x":0.118,"y":0.395},{"x":0.1192,"y":0.42},{"x":0.1208,"y":0.95},{"x":0.1222,"y":0.95},{"x":0.1235,"y":0.92},{"x":0.125,"y":0.88},{"x":0.127,"y":0.86},{"x":0.1297,"y":0.85},
{"x":0.1303,"y":0.42},{"x":0.131,"y":0.39},{"x":0.1325,"y":0.35},{"x":0.135,"y":0.33},{"x":0.138,"y":0.315},{"x":0.1397,"y":0.31},
{"x":0.1403,"y":0.85},{"x":0.1497,"y":0.85},{"x":0.1503,"y":0.25},{"x":0.1597,"y":0.25},
{"x":0.1603,"y":0.85},{"x":0.1697,"y":0.85},{"x":0.1703,"y":0.25},{"x":0.1797,"y":0.25},
{"x":0.1803,"y":0.85},{"x":0.1897,"y":0.85},{"x":0.1903,"y":0.25},{"x":0.1997,"y":0.25},
{"x":0.2003,"y":0.85},{"x":0.2097,"y":0.85},{"x":0.2103,"y":0.25},{"x":0.2197,"y":0.25},
{"x":0.2203,"y":0.85},{"x":0.2297,"y":0.85},{"x":0.2303,"y":0.25},{"x":0.2397,"y":0.25},
{"x":0.2403,"y":0.85},{"x":0.2497,"y":0.85},
{"x":0.2503,"y":0.25},{"x":0.2515,"y":0.25},{"x":0.253,"y":0.27},{"x":0.2555,"y":0.31},{"x":0.258,"y":0.37},{"x":0.2597,"y":0.42},
{"x":0.2603,"y":0.85},{"x":0.2697,"y":0.85},
{"x":0.2703,"y":0.42},{"x":0.2708,"y":0.37},{"x":0.272,"y":0.36},{"x":0.275,"y":0.38},{"x":0.278,"y":0.4},{"x":0.2792,"y":0.42},{"x":0.2808,"y":0.95},{"x":0.2892,"y":0.95},{"x":0.2908,"y":0.42},{"x":0.292,"y":0.402},{"x":0.298,"y":0.402},{"x":0.2992,"y":0.42},{"x":0.3008,"y":0.95},{"x":0.3092,"y":0.95},{"x":0.3108,"y":0.42},{"x":0.312,"y":0.405},{"x":0.318,"y":0.405},{"x":0.3192,"y":0.42}],
"s8": [{"x":0,"y":0.385},{"x":0.003,"y":0.395},{"x":0.0065,"y":0.41},{"x":0.0092,"y":0.42},{"x":0.0108,"y":0.41},{"x":0.012,"y":0.36},{"x":0.014,"y":0.347},{"x":0.017,"y":0.347},{"x":0.019,"y":0.36},{"x":0.0192,"y":0.41},{"x":0.0208,"y":0.42},{"x":0.025,"y":0.43},{"x":0.0284,"y":0.452},{"x":0.0292,"y":0.46},{"x":0.0308,"y":0.42},{"x":0.032,"y":0.395},{"x":0.038,"y":0.393},{"x":0.0392,"y":0.42},{"x":0.0405,"y":0.49},{"x":0.043,"y":0.475},{"x":0.046,"y":0.47},{"x":0.048,"y":0.48},{"x":0.0492,"y":0.51},{"x":0.0508,"y":0.42},{"x":0.052,"y":0.395},{"x":0.058,"y":0.393},{"x":0.0592,"y":0.42},{"x":0.0605,"y":0.51},{"x":0.063,"y":0.49},{"x":0.066,"y":0.485},{"x":0.068,"y":0.495},{"x":0.0692,"y":0.525},{"x":0.0708,"y":0.42},{"x":0.072,"y":0.398},{"x":0.078,"y":0.398},{"x":0.0792,"y":0.42},{"x":0.0805,"y":0.545},{"x":0.083,"y":0.52},{"x":0.086,"y":0.515},{"x":0.088,"y":0.53},{"x":0.0892,"y":0.57},{"x":0.0908,"y":0.42},{"x":0.092,"y":0.398},{"x":0.098,"y":0.398},{"x":0.0992,"y":0.42},{"x":0.1005,"y":0.59},{"x":0.103,"y":0.575},{"x":0.1065,"y":0.603},{"x":0.108,"y":0.673},{"x":0.1092,"y":0.68},{"x":0.1108,"y":0.41},{"x":0.112,"y":0.385},{"x":0.118,"y":0.383},{"x":0.1192,"y":0.41},{"x":0.1208,"y":0.95},{"x":0.1222,"y":0.95},{"x":0.1235,"y":0.9},{"x":0.125,"y":0.86},{"x":0.127,"y":0.835},{"x":0.1297,"y":0.83},{"x":0.1303,"y":0.42},{"x":0.131,"y":0.38},{"x":0.1325,"y":0.33},{"x":0.135,"y":0.305},{"x":0.138,"y":0.29},{"x":0.1397,"y":0.285},{"x":0.1403,"y":0.826},{"x":0.1497,"y":0.826},{"x":0.1503,"y":0.23},{"x":0.1515,"y":0.222},{"x":0.1585,"y":0.225},{"x":0.1597,"y":0.23},{"x":0.1603,"y":0.82},{"x":0.163,"y":0.815},{"x":0.1697,"y":0.815},{"x":0.1703,"y":0.22},{"x":0.172,"y":0.215},{"x":0.1735,"y":0.23},{"x":0.176,"y":0.232},{"x":0.179,"y":0.23},{"x":0.1797,"y":0.22},{"x":0.1803,"y":0.816},{"x":0.1897,"y":0.816},{"x":0.1903,"y":0.22},{"x":0.192,"y":0.214},{"x":0.198,"y":0.216},{"x":0.1997,"y":0.22},{"x":0.2003,"y":0.82},{"x":0.2097,"y":0.82},{"x":0.2103,"y":0.22},{"x":0.212,"y":0.213},{"x":0.2145,"y":0.23},{"x":0.218,"y":0.232},{"x":0.2197,"y":0.22},{"x":0.2203,"y":0.825},{"x":0.222,"y":0.835},{"x":0.2297,"y":0.83},{"x":0.2303,"y":0.22},{"x":0.232,"y":0.23},{"x":0.238,"y":0.23},{"x":0.2397,"y":0.225},{"x":0.2403,"y":0.83},{"x":0.2497,"y":0.83},{"x":0.2503,"y":0.22},{"x":0.2515,"y":0.225},{"x":0.253,"y":0.24},{"x":0.255,"y":0.27},{"x":0.2575,"y":0.33},{"x":0.2597,"y":0.41},{"x":0.2603,"y":0.835},{"x":0.2697,"y":0.835},{"x":0.2703,"y":0.41},{"x":0.2708,"y":0.345},{"x":0.272,"y":0.335},{"x":0.275,"y":0.36},{"x":0.278,"y":0.39},{"x":0.2792,"y":0.41},{"x":0.2808,"y":0.95},{"x":0.2845,"y":0.95},{"x":0.285,"y":0.8},{"x":0.2855,"y":0.7},{"x":0.2865,"y":0.678},{"x":0.2892,"y":0.675},{"x":0.2908,"y":0.42},{"x":0.292,"y":0.398},{"x":0.298,"y":0.398},{"x":0.2992,"y":0.42},{"x":0.3005,"y":0.64},{"x":0.302,"y":0.6},{"x":0.304,"y":0.555},{"x":0.307,"y":0.537},{"x":0.3092,"y":0.53},{"x":0.3108,"y":0.42},{"x":0.312,"y":0.4},{"x":0.318,"y":0.4},{"x":0.3192,"y":0.42},{"x":0.3205,"y":0.55},{"x":0.3225,"y":0.52},{"x":0.325,"y":0.505},{"x":0.3292,"y":0.5},{"x":0.3308,"y":0.42},{"x":0.332,"y":0.405},{"x":0.338,"y":0.405},{"x":0.3392,"y":0.42},{"x":0.3405,"y":0.52},{"x":0.3425,"y":0.5},{"x":0.345,"y":0.48},{"x":0.3492,"y":0.475},{"x":0.3508,"y":0.41},{"x":0.352,"y":0.392},{"x":0.358,"y":0.39},{"x":0.3592,"y":0.41},{"x":0.3605,"y":0.485},{"x":0.363,"y":0.465},{"x":0.366,"y":0.45},{"x":0.3692,"y":0.448},{"x":0.3708,"y":0.41},{"x":0.372,"y":0.37},{"x":0.375,"y":0.365},{"x":0.378,"y":0.37},{"x":0.3792,"y":0.41},{"x":0.3805,"y":0.46},{"x":0.383,"y":0.44},{"x":0.386,"y":0.43},{"x":0.3892,"y":0.425},{"x":0.3908,"y":0.41},{"x":0.392,"y":0.36},{"x":0.394,"y":0.345},{"x":0.4,"y":0.345}],
"r8": [{"x":0,"y":0},{"x":0.006,"y":0.002},{"x":0.013,"y":0.012},{"x":0.02,"y":0},{"x":0.028,"y":0.002},{"x":0.034,"y":0.012},{"x":0.041,"y":0},{"x":0.048,"y":0.002},{"x":0.054,"y":0.013},{"x":0.061,"y":0},{"x":0.069,"y":0.002},{"x":0.075,"y":0.015},{"x":0.082,"y":0},{"x":0.09,"y":0.003},{"x":0.096,"y":0.02},{"x":0.103,"y":0},{"x":0.11,"y":0.005},{"x":0.1165,"y":0.035},{"x":0.121,"y":0.005},{"x":0.124,"y":0.003},{"x":0.128,"y":0.03},{"x":0.1322,"y":0.087},{"x":0.1367,"y":0.117},{"x":0.1413,"y":0.107},{"x":0.1445,"y":0.14},{"x":0.1473,"y":0.187},{"x":0.1534,"y":0.306},{"x":0.1594,"y":0.376},{"x":0.164,"y":0.42},{"x":0.1685,"y":0.445},{"x":0.1776,"y":0.465},{"x":0.1836,"y":0.465},{"x":0.1897,"y":0.485},{"x":0.1957,"y":0.515},{"x":0.2002,"y":0.495},{"x":0.2048,"y":0.475},{"x":0.209,"y":0.49},{"x":0.2123,"y":0.5},{"x":0.2184,"y":0.48},{"x":0.2259,"y":0.425},{"x":0.232,"y":0.41},{"x":0.238,"y":0.325},{"x":0.2441,"y":0.226},{"x":0.2502,"y":0.186},{"x":0.2577,"y":0.127},{"x":0.2638,"y":0.077},{"x":0.2698,"y":0.052},{"x":0.2728,"y":0.067},{"x":0.2774,"y":0.037},{"x":0.2819,"y":0},{"x":0.287,"y":0.005},{"x":0.291,"y":0.012},{"x":0.296,"y":0},{"x":0.306,"y":0.002},{"x":0.3137,"y":0.01},{"x":0.32,"y":0},{"x":0.33,"y":0.002},{"x":0.335,"y":0.008},{"x":0.34,"y":0},{"x":0.352,"y":0.002},{"x":0.357,"y":0.008},{"x":0.362,"y":0},{"x":0.373,"y":0.002},{"x":0.377,"y":0.006},{"x":0.382,"y":0},{"x":0.4,"y":0}]
},
"concat": [
{"width":441,"height":336,
 "layer":[
  {"data":{"name":"s1"},"mark":{"type":"line","color":"#0072BD"},"encoding":{"x":{"field":"x","type":"quantitative","scale":{"domain":[0,0.4],"nice":false,"zero":false},"axis":{"values":[0,0.05,0.1,0.15,0.2,0.25,0.3,0.35,0.4],"format":"~g","title":"Position along fault (m)"}},"y":{"field":"y","type":"quantitative","scale":{"domain":[0,1],"nice":false},"axis":{"values":[0,0.1,0.2,0.3,0.4,0.5,0.6,0.7,0.8,0.9,1],"format":"~g","title":"Friction coefficient and slip (mm)"}},"order":{"value":null}}},
  {"data":{"name":"r1"},"mark":{"type":"line","color":"#FF0000"},"encoding":{"x":{"field":"x","type":"quantitative","axis":{"values":[0,0.05,0.1,0.15,0.2,0.25,0.3,0.35,0.4],"format":"~g","title":"Position along fault (m)"}},"y":{"field":"y","type":"quantitative","axis":{"values":[0,0.1,0.2,0.3,0.4,0.5,0.6,0.7,0.8,0.9,1],"format":"~g","title":"Friction coefficient and slip (mm)"}},"order":{"value":null}}},
  {"data":{"name":"muD"},"mark":{"type":"line","color":"#EDB120"},"encoding":{"x":{"field":"x","type":"quantitative","axis":{"values":[0,0.05,0.1,0.15,0.2,0.25,0.3,0.35,0.4],"format":"~g","title":"Position along fault (m)"}},"y":{"field":"y","type":"quantitative","axis":{"values":[0,0.1,0.2,0.3,0.4,0.5,0.6,0.7,0.8,0.9,1],"format":"~g","title":"Friction coefficient and slip (mm)"}},"order":{"value":null}}},
  {"data":{"name":"muS"},"mark":{"type":"line","color":"#77AC30"},"encoding":{"x":{"field":"x","type":"quantitative","axis":{"values":[0,0.05,0.1,0.15,0.2,0.25,0.3,0.35,0.4],"format":"~g","title":"Position along fault (m)"}},"y":{"field":"y","type":"quantitative","axis":{"values":[0,0.1,0.2,0.3,0.4,0.5,0.6,0.7,0.8,0.9,1],"format":"~g","title":"Friction coefficient and slip (mm)"}},"order":{"value":null}}},
  {"data":{"values":[{}]},"mark":{"type":"rect","fill":"white","stroke":"black","strokeWidth":2},"encoding":{"x":{"datum":0.313,"type":"quantitative","axis":{"values":[0,0.05,0.1,0.15,0.2,0.25,0.3,0.35,0.4],"format":"~g","title":"Position along fault (m)"}},"x2":{"datum":0.377},"y":{"datum":0.042,"type":"quantitative","axis":{"values":[0,0.1,0.2,0.3,0.4,0.5,0.6,0.7,0.8,0.9,1],"format":"~g","title":"Friction coefficient and slip (mm)"}},"y2":{"datum":0.142}}},
  {"data":{"values":[{}]},"mark":{"type":"text","fontSize":20.5,"align":"center","baseline":"middle"},"encoding":{"x":{"datum":0.345,"type":"quantitative","axis":{"values":[0,0.05,0.1,0.15,0.2,0.25,0.3,0.35,0.4],"format":"~g","title":"Position along fault (m)"}},"y":{"datum":0.092,"type":"quantitative","axis":{"values":[0,0.1,0.2,0.3,0.4,0.5,0.6,0.7,0.8,0.9,1],"format":"~g","title":"Friction coefficient and slip (mm)"}},"text":{"value":"0 s"}}},
  {"data":{"values":[{}]},"mark":{"type":"rect","fill":"white","stroke":"#262626","strokeWidth":1},"encoding":{"x":{"datum":0.2828,"type":"quantitative","axis":{"values":[0,0.05,0.1,0.15,0.2,0.25,0.3,0.35,0.4],"format":"~g","title":"Position along fault (m)"}},"x2":{"datum":0.3899},"y":{"datum":0.729,"type":"quantitative","axis":{"values":[0,0.1,0.2,0.3,0.4,0.5,0.6,0.7,0.8,0.9,1],"format":"~g","title":"Friction coefficient and slip (mm)"}},"y2":{"datum":0.968}}},
  {"data":{"values":[{}]},"mark":{"type":"rule","color":"#0072BD","strokeWidth":2},"encoding":{"x":{"datum":0.2864,"type":"quantitative","axis":{"values":[0,0.05,0.1,0.15,0.2,0.25,0.3,0.35,0.4],"format":"~g","title":"Position along fault (m)"}},"x2":{"datum":0.3211},"y":{"datum":0.9405,"type":"quantitative","axis":{"values":[0,0.1,0.2,0.3,0.4,0.5,0.6,0.7,0.8,0.9,1],"format":"~g","title":"Friction coefficient and slip (mm)"}}}},
  {"data":{"values":[{}]},"mark":{"type":"rule","color":"#FF0000","strokeWidth":2},"encoding":{"x":{"datum":0.2864,"type":"quantitative","axis":{"values":[0,0.05,0.1,0.15,0.2,0.25,0.3,0.35,0.4],"format":"~g","title":"Position along fault (m)"}},"x2":{"datum":0.3211},"y":{"datum":0.8949,"type":"quantitative","axis":{"values":[0,0.1,0.2,0.3,0.4,0.5,0.6,0.7,0.8,0.9,1],"format":"~g","title":"Friction coefficient and slip (mm)"}}}},
  {"data":{"values":[{}]},"mark":{"type":"rule","color":"#EDB120","strokeWidth":2},"encoding":{"x":{"datum":0.2864,"type":"quantitative","axis":{"values":[0,0.05,0.1,0.15,0.2,0.25,0.3,0.35,0.4],"format":"~g","title":"Position along fault (m)"}},"x2":{"datum":0.3211},"y":{"datum":0.8503,"type":"quantitative","axis":{"values":[0,0.1,0.2,0.3,0.4,0.5,0.6,0.7,0.8,0.9,1],"format":"~g","title":"Friction coefficient and slip (mm)"}}}},
  {"data":{"values":[{}]},"mark":{"type":"rule","color":"#7E2F8E","strokeWidth":2},"encoding":{"x":{"datum":0.2864,"type":"quantitative","axis":{"values":[0,0.05,0.1,0.15,0.2,0.25,0.3,0.35,0.4],"format":"~g","title":"Position along fault (m)"}},"x2":{"datum":0.3211},"y":{"datum":0.8036,"type":"quantitative","axis":{"values":[0,0.1,0.2,0.3,0.4,0.5,0.6,0.7,0.8,0.9,1],"format":"~g","title":"Friction coefficient and slip (mm)"}}}},
  {"data":{"values":[{}]},"mark":{"type":"rule","color":"#77AC30","strokeWidth":2},"encoding":{"x":{"datum":0.2864,"type":"quantitative","axis":{"values":[0,0.05,0.1,0.15,0.2,0.25,0.3,0.35,0.4],"format":"~g","title":"Position along fault (m)"}},"x2":{"datum":0.3211},"y":{"datum":0.7568,"type":"quantitative","axis":{"values":[0,0.1,0.2,0.3,0.4,0.5,0.6,0.7,0.8,0.9,1],"format":"~g","title":"Friction coefficient and slip (mm)"}}}},
  {"data":{"values":[{}]},"mark":{"type":"text","fontSize":10.6,"align":"left","baseline":"middle"},"encoding":{"x":{"datum":0.3226,"type":"quantitative","axis":{"values":[0,0.05,0.1,0.15,0.2,0.25,0.3,0.35,0.4],"format":"~g","title":"Position along fault (m)"}},"y":{"datum":0.9405,"type":"quantitative","axis":{"values":[0,0.1,0.2,0.3,0.4,0.5,0.6,0.7,0.8,0.9,1],"format":"~g","title":"Friction coefficient and slip (mm)"}},"text":{"value":"σ"}}},
  {"data":{"values":[{}]},"mark":{"type":"text","fontSize":8,"align":"left","baseline":"middle","dx":6.5,"dy":3},"encoding":{"x":{"datum":0.3226,"type":"quantitative","axis":{"values":[0,0.05,0.1,0.15,0.2,0.25,0.3,0.35,0.4],"format":"~g","title":"Position along fault (m)"}},"y":{"datum":0.9405,"type":"quantitative","axis":{"values":[0,0.1,0.2,0.3,0.4,0.5,0.6,0.7,0.8,0.9,1],"format":"~g","title":"Friction coefficient and slip (mm)"}},"text":{"value":"T"}}},
  {"data":{"values":[{}]},"mark":{"type":"text","fontSize":10.6,"align":"left","baseline":"middle","dx":11.4},"encoding":{"x":{"datum":0.3226,"type":"quantitative","axis":{"values":[0,0.05,0.1,0.15,0.2,0.25,0.3,0.35,0.4],"format":"~g","title":"Position along fault (m)"}},"y":{"datum":0.9405,"type":"quantitative","axis":{"values":[0,0.1,0.2,0.3,0.4,0.5,0.6,0.7,0.8,0.9,1],"format":"~g","title":"Friction coefficient and slip (mm)"}},"text":{"value":"/σ"}}},
  {"data":{"values":[{}]},"mark":{"type":"text","fontSize":8,"align":"left","baseline":"middle","dx":20.8,"dy":3},"encoding":{"x":{"datum":0.3226,"type":"quantitative","axis":{"values":[0,0.05,0.1,0.15,0.2,0.25,0.3,0.35,0.4],"format":"~g","title":"Position along fault (m)"}},"y":{"datum":0.9405,"type":"quantitative","axis":{"values":[0,0.1,0.2,0.3,0.4,0.5,0.6,0.7,0.8,0.9,1],"format":"~g","title":"Friction coefficient and slip (mm)"}},"text":{"value":"N"}}},
  {"data":{"values":[{}]},"mark":{"type":"text","fontSize":10.6,"align":"left","baseline":"middle"},"encoding":{"x":{"datum":0.3226,"type":"quantitative","axis":{"values":[0,0.05,0.1,0.15,0.2,0.25,0.3,0.35,0.4],"format":"~g","title":"Position along fault (m)"}},"y":{"datum":0.8949,"type":"quantitative","axis":{"values":[0,0.1,0.2,0.3,0.4,0.5,0.6,0.7,0.8,0.9,1],"format":"~g","title":"Friction coefficient and slip (mm)"}},"text":{"value":"Glissement"}}},
  {"data":{"values":[{}]},"mark":{"type":"text","fontSize":10.6,"align":"left","baseline":"middle"},"encoding":{"x":{"datum":0.3226,"type":"quantitative","axis":{"values":[0,0.05,0.1,0.15,0.2,0.25,0.3,0.35,0.4],"format":"~g","title":"Position along fault (m)"}},"y":{"datum":0.8503,"type":"quantitative","axis":{"values":[0,0.1,0.2,0.3,0.4,0.5,0.6,0.7,0.8,0.9,1],"format":"~g","title":"Friction coefficient and slip (mm)"}},"text":{"value":"μ"}}},
  {"data":{"values":[{}]},"mark":{"type":"text","fontSize":8,"align":"left","baseline":"middle","dx":6.2,"dy":3},"encoding":{"x":{"datum":0.3226,"type":"quantitative","axis":{"values":[0,0.05,0.1,0.15,0.2,0.25,0.3,0.35,0.4],"format":"~g","title":"Position along fault (m)"}},"y":{"datum":0.8503,"type":"quantitative","axis":{"values":[0,0.1,0.2,0.3,0.4,0.5,0.6,0.7,0.8,0.9,1],"format":"~g","title":"Friction coefficient and slip (mm)"}},"text":{"value":"D"}}},
  {"data":{"values":[{}]},"mark":{"type":"text","fontSize":10.6,"align":"left","baseline":"middle"},"encoding":{"x":{"datum":0.3226,"type":"quantitative","axis":{"values":[0,0.05,0.1,0.15,0.2,0.25,0.3,0.35,0.4],"format":"~g","title":"Position along fault (m)"}},"y":{"datum":0.8036,"type":"quantitative","axis":{"values":[0,0.1,0.2,0.3,0.4,0.5,0.6,0.7,0.8,0.9,1],"format":"~g","title":"Friction coefficient and slip (mm)"}},"text":{"value":"μ"}}},
  {"data":{"values":[{}]},"mark":{"type":"text","fontSize":10.6,"align":"left","baseline":"middle"},"encoding":{"x":{"datum":0.3226,"type":"quantitative","axis":{"values":[0,0.05,0.1,0.15,0.2,0.25,0.3,0.35,0.4],"format":"~g","title":"Position along fault (m)"}},"y":{"datum":0.7568,"type":"quantitative","axis":{"values":[0,0.1,0.2,0.3,0.4,0.5,0.6,0.7,0.8,0.9,1],"format":"~g","title":"Friction coefficient and slip (mm)"}},"text":{"value":"μ"}}},
  {"data":{"values":[{}]},"mark":{"type":"text","fontSize":8,"align":"left","baseline":"middle","dx":6.2,"dy":3},"encoding":{"x":{"datum":0.3226,"type":"quantitative","axis":{"values":[0,0.05,0.1,0.15,0.2,0.25,0.3,0.35,0.4],"format":"~g","title":"Position along fault (m)"}},"y":{"datum":0.7568,"type":"quantitative","axis":{"values":[0,0.1,0.2,0.3,0.4,0.5,0.6,0.7,0.8,0.9,1],"format":"~g","title":"Friction coefficient and slip (mm)"}},"text":{"value":"S"}}}
 ]},
{"width":441,"height":336,
 "layer":[
  {"data":{"name":"s2"},"mark":{"type":"line","color":"#0072BD"},"encoding":{"x":{"field":"x","type":"quantitative","scale":{"domain":[0,0.4],"nice":false,"zero":false},"axis":{"values":[0,0.05,0.1,0.15,0.2,0.25,0.3,0.35,0.4],"format":"~g","title":"Position along fault (m)"}},"y":{"field":"y","type":"quantitative","scale":{"domain":[0,1],"nice":false},"axis":{"values":[0,0.1,0.2,0.3,0.4,0.5,0.6,0.7,0.8,0.9,1],"format":"~g","title":"Friction coefficient and slip (mm)"}},"order":{"value":null}}},
  {"data":{"name":"r2"},"mark":{"type":"line","color":"#FF0000"},"encoding":{"x":{"field":"x","type":"quantitative","axis":{"values":[0,0.05,0.1,0.15,0.2,0.25,0.3,0.35,0.4],"format":"~g","title":"Position along fault (m)"}},"y":{"field":"y","type":"quantitative","axis":{"values":[0,0.1,0.2,0.3,0.4,0.5,0.6,0.7,0.8,0.9,1],"format":"~g","title":"Friction coefficient and slip (mm)"}},"order":{"value":null}}},
  {"data":{"name":"muD"},"mark":{"type":"line","color":"#EDB120"},"encoding":{"x":{"field":"x","type":"quantitative","axis":{"values":[0,0.05,0.1,0.15,0.2,0.25,0.3,0.35,0.4],"format":"~g","title":"Position along fault (m)"}},"y":{"field":"y","type":"quantitative","axis":{"values":[0,0.1,0.2,0.3,0.4,0.5,0.6,0.7,0.8,0.9,1],"format":"~g","title":"Friction coefficient and slip (mm)"}},"order":{"value":null}}},
  {"data":{"name":"m2"},"mark":{"type":"line","color":"#7E2F8E"},"encoding":{"x":{"field":"x","type":"quantitative","axis":{"values":[0,0.05,0.1,0.15,0.2,0.25,0.3,0.35,0.4],"format":"~g","title":"Position along fault (m)"}},"y":{"field":"y","type":"quantitative","axis":{"values":[0,0.1,0.2,0.3,0.4,0.5,0.6,0.7,0.8,0.9,1],"format":"~g","title":"Friction coefficient and slip (mm)"}},"order":{"value":null}}},
  {"data":{"name":"muS"},"mark":{"type":"line","color":"#77AC30"},"encoding":{"x":{"field":"x","type":"quantitative","axis":{"values":[0,0.05,0.1,0.15,0.2,0.25,0.3,0.35,0.4],"format":"~g","title":"Position along fault (m)"}},"y":{"field":"y","type":"quantitative","axis":{"values":[0,0.1,0.2,0.3,0.4,0.5,0.6,0.7,0.8,0.9,1],"format":"~g","title":"Friction coefficient and slip (mm)"}},"order":{"value":null}}},
  {"data":{"values":[{}]},"mark":{"type":"rect","fill":"white","stroke":"black","strokeWidth":2},"encoding":{"x":{"datum":0.3176,"type":"quantitative","axis":{"values":[0,0.05,0.1,0.15,0.2,0.25,0.3,0.35,0.4],"format":"~g","title":"Position along fault (m)"}},"x2":{"datum":0.382},"y":{"datum":0.048,"type":"quantitative","axis":{"values":[0,0.1,0.2,0.3,0.4,0.5,0.6,0.7,0.8,0.9,1],"format":"~g","title":"Friction coefficient and slip (mm)"}},"y2":{"datum":0.148}}},
  {"data":{"values":[{}]},"mark":{"type":"text","fontSize":20.5,"align":"center","baseline":"middle"},"encoding":{"x":{"datum":0.3498,"type":"quantitative","axis":{"values":[0,0.05,0.1,0.15,0.2,0.25,0.3,0.35,0.4],"format":"~g","title":"Position along fault (m)"}},"y":{"datum":0.098,"type":"quantitative","axis":{"values":[0,0.1,0.2,0.3,0.4,0.5,0.6,0.7,0.8,0.9,1],"format":"~g","title":"Friction coefficient and slip (mm)"}},"text":{"value":"4 µs"}}}
 ]},
{"width":441,"height":336,
 "layer":[
  {"data":{"name":"s3"},"mark":{"type":"line","color":"#0072BD"},"encoding":{"x":{"field":"x","type":"quantitative","scale":{"domain":[0,0.4],"nice":false,"zero":false},"axis":{"values":[0,0.05,0.1,0.15,0.2,0.25,0.3,0.35,0.4],"format":"~g","title":"Position along fault (m)"}},"y":{"field":"y","type":"quantitative","scale":{"domain":[0,1],"nice":false},"axis":{"values":[0,0.1,0.2,0.3,0.4,0.5,0.6,0.7,0.8,0.9,1],"format":"~g","title":"Friction coefficient and slip (mm)"}},"order":{"value":null}}},
  {"data":{"name":"r3"},"mark":{"type":"line","color":"#FF0000"},"encoding":{"x":{"field":"x","type":"quantitative","axis":{"values":[0,0.05,0.1,0.15,0.2,0.25,0.3,0.35,0.4],"format":"~g","title":"Position along fault (m)"}},"y":{"field":"y","type":"quantitative","axis":{"values":[0,0.1,0.2,0.3,0.4,0.5,0.6,0.7,0.8,0.9,1],"format":"~g","title":"Friction coefficient and slip (mm)"}},"order":{"value":null}}},
  {"data":{"name":"muD"},"mark":{"type":"line","color":"#EDB120"},"encoding":{"x":{"field":"x","type":"quantitative","axis":{"values":[0,0.05,0.1,0.15,0.2,0.25,0.3,0.35,0.4],"format":"~g","title":"Position along fault (m)"}},"y":{"field":"y","type":"quantitative","axis":{"values":[0,0.1,0.2,0.3,0.4,0.5,0.6,0.7,0.8,0.9,1],"format":"~g","title":"Friction coefficient and slip (mm)"}},"order":{"value":null}}},
  {"data":{"name":"m3"},"mark":{"type":"line","color":"#7E2F8E"},"encoding":{"x":{"field":"x","type":"quantitative","axis":{"values":[0,0.05,0.1,0.15,0.2,0.25,0.3,0.35,0.4],"format":"~g","title":"Position along fault (m)"}},"y":{"field":"y","type":"quantitative","axis":{"values":[0,0.1,0.2,0.3,0.4,0.5,0.6,0.7,0.8,0.9,1],"format":"~g","title":"Friction coefficient and slip (mm)"}},"order":{"value":null}}},
  {"data":{"name":"muS"},"mark":{"type":"line","color":"#77AC30"},"encoding":{"x":{"field":"x","type":"quantitative","axis":{"values":[0,0.05,0.1,0.15,0.2,0.25,0.3,0.35,0.4],"format":"~g","title":"Position along fault (m)"}},"y":{"field":"y","type":"quantitative","axis":{"values":[0,0.1,0.2,0.3,0.4,0.5,0.6,0.7,0.8,0.9,1],"format":"~g","title":"Friction coefficient and slip (mm)"}},"order":{"value":null}}},
  {"data":{"values":[{}]},"mark":{"type":"rect","fill":"white","stroke":"black","strokeWidth":2},"encoding":{"x":{"datum":0.313,"type":"quantitative","axis":{"values":[0,0.05,0.1,0.15,0.2,0.25,0.3,0.35,0.4],"format":"~g","title":"Position along fault (m)"}},"x2":{"datum":0.377},"y":{"datum":0.047,"type":"quantitative","axis":{"values":[0,0.1,0.2,0.3,0.4,0.5,0.6,0.7,0.8,0.9,1],"format":"~g","title":"Friction coefficient and slip (mm)"}},"y2":{"datum":0.147}}},
  {"data":{"values":[{}]},"mark":{"type":"text","fontSize":20.5,"align":"center","baseline":"middle"},"encoding":{"x":{"datum":0.345,"type":"quantitative","axis":{"values":[0,0.05,0.1,0.15,0.2,0.25,0.3,0.35,0.4],"format":"~g","title":"Position along fault (m)"}},"y":{"datum":0.097,"type":"quantitative","axis":{"values":[0,0.1,0.2,0.3,0.4,0.5,0.6,0.7,0.8,0.9,1],"format":"~g","title":"Friction coefficient and slip (mm)"}},"text":{"value":"16 µs"}}}
 ]},
{"width":441,"height":336,
 "layer":[
  {"data":{"name":"s4"},"mark":{"type":"line","color":"#0072BD"},"encoding":{"x":{"field":"x","type":"quantitative","scale":{"domain":[0,0.4],"nice":false,"zero":false},"axis":{"values":[0,0.05,0.1,0.15,0.2,0.25,0.3,0.35,0.4],"format":"~g","title":"Position along fault (m)"}},"y":{"field":"y","type":"quantitative","scale":{"domain":[0,1],"nice":false},"axis":{"values":[0,0.1,0.2,0.3,0.4,0.5,0.6,0.7,0.8,0.9,1],"format":"~g","title":"Friction coefficient and slip (mm)"}},"order":{"value":null}}},
  {"data":{"name":"r4"},"mark":{"type":"line","color":"#FF0000"},"encoding":{"x":{"field":"x","type":"quantitative","axis":{"values":[0,0.05,0.1,0.15,0.2,0.25,0.3,0.35,0.4],"format":"~g","title":"Position along fault (m)"}},"y":{"field":"y","type":"quantitative","axis":{"values":[0,0.1,0.2,0.3,0.4,0.5,0.6,0.7,0.8,0.9,1],"format":"~g","title":"Friction coefficient and slip (mm)"}},"order":{"value":null}}},
  {"data":{"name":"muD"},"mark":{"type":"line","color":"#EDB120"},"encoding":{"x":{"field":"x","type":"quantitative","axis":{"values":[0,0.05,0.1,0.15,0.2,0.25,0.3,0.35,0.4],"format":"~g","title":"Position along fault (m)"}},"y":{"field":"y","type":"quantitative","axis":{"values":[0,0.1,0.2,0.3,0.4,0.5,0.6,0.7,0.8,0.9,1],"format":"~g","title":"Friction coefficient and slip (mm)"}},"order":{"value":null}}},
  {"data":{"name":"m4"},"mark":{"type":"line","color":"#7E2F8E"},"encoding":{"x":{"field":"x","type":"quantitative","axis":{"values":[0,0.05,0.1,0.15,0.2,0.25,0.3,0.35,0.4],"format":"~g","title":"Position along fault (m)"}},"y":{"field":"y","type":"quantitative","axis":{"values":[0,0.1,0.2,0.3,0.4,0.5,0.6,0.7,0.8,0.9,1],"format":"~g","title":"Friction coefficient and slip (mm)"}},"order":{"value":null}}},
  {"data":{"name":"muS"},"mark":{"type":"line","color":"#77AC30"},"encoding":{"x":{"field":"x","type":"quantitative","axis":{"values":[0,0.05,0.1,0.15,0.2,0.25,0.3,0.35,0.4],"format":"~g","title":"Position along fault (m)"}},"y":{"field":"y","type":"quantitative","axis":{"values":[0,0.1,0.2,0.3,0.4,0.5,0.6,0.7,0.8,0.9,1],"format":"~g","title":"Friction coefficient and slip (mm)"}},"order":{"value":null}}},
  {"data":{"values":[{}]},"mark":{"type":"rect","fill":"white","stroke":"black","strokeWidth":2},"encoding":{"x":{"datum":0.3176,"type":"quantitative","axis":{"values":[0,0.05,0.1,0.15,0.2,0.25,0.3,0.35,0.4],"format":"~g","title":"Position along fault (m)"}},"x2":{"datum":0.382},"y":{"datum":0.053,"type":"quantitative","axis":{"values":[0,0.1,0.2,0.3,0.4,0.5,0.6,0.7,0.8,0.9,1],"format":"~g","title":"Friction coefficient and slip (mm)"}},"y2":{"datum":0.153}}},
  {"data":{"values":[{}]},"mark":{"type":"text","fontSize":20.5,"align":"center","baseline":"middle"},"encoding":{"x":{"datum":0.3498,"type":"quantitative","axis":{"values":[0,0.05,0.1,0.15,0.2,0.25,0.3,0.35,0.4],"format":"~g","title":"Position along fault (m)"}},"y":{"datum":0.103,"type":"quantitative","axis":{"values":[0,0.1,0.2,0.3,0.4,0.5,0.6,0.7,0.8,0.9,1],"format":"~g","title":"Friction coefficient and slip (mm)"}},"text":{"value":"32 µs"}}}
 ]},
{"width":441,"height":336,
 "layer":[
  {"data":{"name":"s5"},"mark":{"type":"line","color":"#0072BD"},"encoding":{"x":{"field":"x","type":"quantitative","scale":{"domain":[0,0.4],"nice":false,"zero":false},"axis":{"values":[0,0.05,0.1,0.15,0.2,0.25,0.3,0.35,0.4],"format":"~g","title":"Position along fault (m)"}},"y":{"field":"y","type":"quantitative","scale":{"domain":[0,1],"nice":false},"axis":{"values":[0,0.1,0.2,0.3,0.4,0.5,0.6,0.7,0.8,0.9,1],"format":"~g","title":"Friction coefficient and slip (mm)"}},"order":{"value":null}}},
  {"data":{"name":"r5"},"mark":{"type":"line","color":"#FF0000"},"encoding":{"x":{"field":"x","type":"quantitative","axis":{"values":[0,0.05,0.1,0.15,0.2,0.25,0.3,0.35,0.4],"format":"~g","title":"Position along fault (m)"}},"y":{"field":"y","type":"quantitative","axis":{"values":[0,0.1,0.2,0.3,0.4,0.5,0.6,0.7,0.8,0.9,1],"format":"~g","title":"Friction coefficient and slip (mm)"}},"order":{"value":null}}},
  {"data":{"name":"muD"},"mark":{"type":"line","color":"#EDB120"},"encoding":{"x":{"field":"x","type":"quantitative","axis":{"values":[0,0.05,0.1,0.15,0.2,0.25,0.3,0.35,0.4],"format":"~g","title":"Position along fault (m)"}},"y":{"field":"y","type":"quantitative","axis":{"values":[0,0.1,0.2,0.3,0.4,0.5,0.6,0.7,0.8,0.9,1],"format":"~g","title":"Friction coefficient and slip (mm)"}},"order":{"value":null}}},
  {"data":{"name":"m5"},"mark":{"type":"line","color":"#7E2F8E"},"encoding":{"x":{"field":"x","type":"quantitative","axis":{"values":[0,0.05,0.1,0.15,0.2,0.25,0.3,0.35,0.4],"format":"~g","title":"Position along fault (m)"}},"y":{"field":"y","type":"quantitative","axis":{"values":[0,0.1,0.2,0.3,0.4,0.5,0.6,0.7,0.8,0.9,1],"format":"~g","title":"Friction coefficient and slip (mm)"}},"order":{"value":null}}},
  {"data":{"name":"muS"},"mark":{"type":"line","color":"#77AC30"},"encoding":{"x":{"field":"x","type":"quantitative","axis":{"values":[0,0.05,0.1,0.15,0.2,0.25,0.3,0.35,0.4],"format":"~g","title":"Position along fault (m)"}},"y":{"field":"y","type":"quantitative","axis":{"values":[0,0.1,0.2,0.3,0.4,0.5,0.6,0.7,0.8,0.9,1],"format":"~g","title":"Friction coefficient and slip (mm)"}},"order":{"value":null}}},
  {"data":{"values":[{}]},"mark":{"type":"rect","fill":"white","stroke":"black","strokeWidth":2},"encoding":{"x":{"datum":0.313,"type":"quantitative","axis":{"values":[0,0.05,0.1,0.15,0.2,0.25,0.3,0.35,0.4],"format":"~g","title":"Position along fault (m)"}},"x2":{"datum":0.377},"y":{"datum":0.049,"type":"quantitative","axis":{"values":[0,0.1,0.2,0.3,0.4,0.5,0.6,0.7,0.8,0.9,1],"format":"~g","title":"Friction coefficient and slip (mm)"}},"y2":{"datum":0.149}}},
  {"data":{"values":[{}]},"mark":{"type":"text","fontSize":20.5,"align":"center","baseline":"middle"},"encoding":{"x":{"datum":0.345,"type":"quantitative","axis":{"values":[0,0.05,0.1,0.15,0.2,0.25,0.3,0.35,0.4],"format":"~g","title":"Position along fault (m)"}},"y":{"datum":0.099,"type":"quantitative","axis":{"values":[0,0.1,0.2,0.3,0.4,0.5,0.6,0.7,0.8,0.9,1],"format":"~g","title":"Friction coefficient and slip (mm)"}},"text":{"value":"48 µs"}}}
 ]},
{"width":441,"height":336,
 "layer":[
  {"data":{"name":"s6"},"mark":{"type":"line","color":"#0072BD"},"encoding":{"x":{"field":"x","type":"quantitative","scale":{"domain":[0,0.4],"nice":false,"zero":false},"axis":{"values":[0,0.05,0.1,0.15,0.2,0.25,0.3,0.35,0.4],"format":"~g","title":"Position along fault (m)"}},"y":{"field":"y","type":"quantitative","scale":{"domain":[0,1],"nice":false},"axis":{"values":[0,0.1,0.2,0.3,0.4,0.5,0.6,0.7,0.8,0.9,1],"format":"~g","title":"Friction coefficient and slip (mm)"}},"order":{"value":null}}},
  {"data":{"name":"r6"},"mark":{"type":"line","color":"#FF0000"},"encoding":{"x":{"field":"x","type":"quantitative","axis":{"values":[0,0.05,0.1,0.15,0.2,0.25,0.3,0.35,0.4],"format":"~g","title":"Position along fault (m)"}},"y":{"field":"y","type":"quantitative","axis":{"values":[0,0.1,0.2,0.3,0.4,0.5,0.6,0.7,0.8,0.9,1],"format":"~g","title":"Friction coefficient and slip (mm)"}},"order":{"value":null}}},
  {"data":{"name":"muD"},"mark":{"type":"line","color":"#EDB120"},"encoding":{"x":{"field":"x","type":"quantitative","axis":{"values":[0,0.05,0.1,0.15,0.2,0.25,0.3,0.35,0.4],"format":"~g","title":"Position along fault (m)"}},"y":{"field":"y","type":"quantitative","axis":{"values":[0,0.1,0.2,0.3,0.4,0.5,0.6,0.7,0.8,0.9,1],"format":"~g","title":"Friction coefficient and slip (mm)"}},"order":{"value":null}}},
  {"data":{"name":"m6"},"mark":{"type":"line","color":"#7E2F8E"},"encoding":{"x":{"field":"x","type":"quantitative","axis":{"values":[0,0.05,0.1,0.15,0.2,0.25,0.3,0.35,0.4],"format":"~g","title":"Position along fault (m)"}},"y":{"field":"y","type":"quantitative","axis":{"values":[0,0.1,0.2,0.3,0.4,0.5,0.6,0.7,0.8,0.9,1],"format":"~g","title":"Friction coefficient and slip (mm)"}},"order":{"value":null}}},
  {"data":{"name":"muS"},"mark":{"type":"line","color":"#77AC30"},"encoding":{"x":{"field":"x","type":"quantitative","axis":{"values":[0,0.05,0.1,0.15,0.2,0.25,0.3,0.35,0.4],"format":"~g","title":"Position along fault (m)"}},"y":{"field":"y","type":"quantitative","axis":{"values":[0,0.1,0.2,0.3,0.4,0.5,0.6,0.7,0.8,0.9,1],"format":"~g","title":"Friction coefficient and slip (mm)"}},"order":{"value":null}}},
  {"data":{"values":[{}]},"mark":{"type":"rect","fill":"white","stroke":"black","strokeWidth":2},"encoding":{"x":{"datum":0.3176,"type":"quantitative","axis":{"values":[0,0.05,0.1,0.15,0.2,0.25,0.3,0.35,0.4],"format":"~g","title":"Position along fault (m)"}},"x2":{"datum":0.382},"y":{"datum":0.058,"type":"quantitative","axis":{"values":[0,0.1,0.2,0.3,0.4,0.5,0.6,0.7,0.8,0.9,1],"format":"~g","title":"Friction coefficient and slip (mm)"}},"y2":{"datum":0.158}}},
  {"data":{"values":[{}]},"mark":{"type":"text","fontSize":20.5,"align":"center","baseline":"middle"},"encoding":{"x":{"datum":0.3498,"type":"quantitative","axis":{"values":[0,0.05,0.1,0.15,0.2,0.25,0.3,0.35,0.4],"format":"~g","title":"Position along fault (m)"}},"y":{"datum":0.108,"type":"quantitative","axis":{"values":[0,0.1,0.2,0.3,0.4,0.5,0.6,0.7,0.8,0.9,1],"format":"~g","title":"Friction coefficient and slip (mm)"}},"text":{"value":"64 µs"}}}
 ]},
{"width":441,"height":336,
 "layer":[
  {"data":{"name":"s7"},"mark":{"type":"line","color":"#0072BD"},"encoding":{"x":{"field":"x","type":"quantitative","scale":{"domain":[0,0.4],"nice":false,"zero":false},"axis":{"values":[0,0.05,0.1,0.15,0.2,0.25,0.3,0.35,0.4],"format":"~g","title":"Position along fault (m)"}},"y":{"field":"y","type":"quantitative","scale":{"domain":[0,1],"nice":false},"axis":{"values":[0,0.1,0.2,0.3,0.4,0.5,0.6,0.7,0.8,0.9,1],"format":"~g","title":"Friction coefficient and slip (mm)"}},"order":{"value":null}}},
  {"data":{"name":"r7"},"mark":{"type":"line","color":"#FF0000"},"encoding":{"x":{"field":"x","type":"quantitative","axis":{"values":[0,0.05,0.1,0.15,0.2,0.25,0.3,0.35,0.4],"format":"~g","title":"Position along fault (m)"}},"y":{"field":"y","type":"quantitative","axis":{"values":[0,0.1,0.2,0.3,0.4,0.5,0.6,0.7,0.8,0.9,1],"format":"~g","title":"Friction coefficient and slip (mm)"}},"order":{"value":null}}},
  {"data":{"name":"muD"},"mark":{"type":"line","color":"#EDB120"},"encoding":{"x":{"field":"x","type":"quantitative","axis":{"values":[0,0.05,0.1,0.15,0.2,0.25,0.3,0.35,0.4],"format":"~g","title":"Position along fault (m)"}},"y":{"field":"y","type":"quantitative","axis":{"values":[0,0.1,0.2,0.3,0.4,0.5,0.6,0.7,0.8,0.9,1],"format":"~g","title":"Friction coefficient and slip (mm)"}},"order":{"value":null}}},
  {"data":{"name":"m7"},"mark":{"type":"line","color":"#7E2F8E"},"encoding":{"x":{"field":"x","type":"quantitative","axis":{"values":[0,0.05,0.1,0.15,0.2,0.25,0.3,0.35,0.4],"format":"~g","title":"Position along fault (m)"}},"y":{"field":"y","type":"quantitative","axis":{"values":[0,0.1,0.2,0.3,0.4,0.5,0.6,0.7,0.8,0.9,1],"format":"~g","title":"Friction coefficient and slip (mm)"}},"order":{"value":null}}},
  {"data":{"name":"muS"},"mark":{"type":"line","color":"#77AC30"},"encoding":{"x":{"field":"x","type":"quantitative","axis":{"values":[0,0.05,0.1,0.15,0.2,0.25,0.3,0.35,0.4],"format":"~g","title":"Position along fault (m)"}},"y":{"field":"y","type":"quantitative","axis":{"values":[0,0.1,0.2,0.3,0.4,0.5,0.6,0.7,0.8,0.9,1],"format":"~g","title":"Friction coefficient and slip (mm)"}},"order":{"value":null}}},
  {"data":{"values":[{}]},"mark":{"type":"rect","fill":"white","stroke":"black","strokeWidth":2},"encoding":{"x":{"datum":0.313,"type":"quantitative","axis":{"values":[0,0.05,0.1,0.15,0.2,0.25,0.3,0.35,0.4],"format":"~g","title":"Position along fault (m)"}},"x2":{"datum":0.377},"y":{"datum":0.063,"type":"quantitative","axis":{"values":[0,0.1,0.2,0.3,0.4,0.5,0.6,0.7,0.8,0.9,1],"format":"~g","title":"Friction coefficient and slip (mm)"}},"y2":{"datum":0.163}}},
  {"data":{"values":[{}]},"mark":{"type":"text","fontSize":20.5,"align":"center","baseline":"middle"},"encoding":{"x":{"datum":0.345,"type":"quantitative","axis":{"values":[0,0.05,0.1,0.15,0.2,0.25,0.3,0.35,0.4],"format":"~g","title":"Position along fault (m)"}},"y":{"datum":0.113,"type":"quantitative","axis":{"values":[0,0.1,0.2,0.3,0.4,0.5,0.6,0.7,0.8,0.9,1],"format":"~g","title":"Friction coefficient and slip (mm)"}},"text":{"value":"82 µs"}}}
 ]},
{"width":441,"height":336,
 "layer":[
  {"data":{"name":"s8"},"mark":{"type":"line","color":"#0072BD"},"encoding":{"x":{"field":"x","type":"quantitative","scale":{"domain":[0,0.4],"nice":false,"zero":false},"axis":{"values":[0,0.05,0.1,0.15,0.2,0.25,0.3,0.35,0.4],"format":"~g","title":"Position along fault (m)"}},"y":{"field":"y","type":"quantitative","scale":{"domain":[0,1],"nice":false},"axis":{"values":[0,0.1,0.2,0.3,0.4,0.5,0.6,0.7,0.8,0.9,1],"format":"~g","title":"Friction coefficient and slip (mm)"}},"order":{"value":null}}},
  {"data":{"name":"r8"},"mark":{"type":"line","color":"#FF0000"},"encoding":{"x":{"field":"x","type":"quantitative","axis":{"values":[0,0.05,0.1,0.15,0.2,0.25,0.3,0.35,0.4],"format":"~g","title":"Position along fault (m)"}},"y":{"field":"y","type":"quantitative","axis":{"values":[0,0.1,0.2,0.3,0.4,0.5,0.6,0.7,0.8,0.9,1],"format":"~g","title":"Friction coefficient and slip (mm)"}},"order":{"value":null}}},
  {"data":{"name":"muD"},"mark":{"type":"line","color":"#EDB120"},"encoding":{"x":{"field":"x","type":"quantitative","axis":{"values":[0,0.05,0.1,0.15,0.2,0.25,0.3,0.35,0.4],"format":"~g","title":"Position along fault (m)"}},"y":{"field":"y","type":"quantitative","axis":{"values":[0,0.1,0.2,0.3,0.4,0.5,0.6,0.7,0.8,0.9,1],"format":"~g","title":"Friction coefficient and slip (mm)"}},"order":{"value":null}}},
  {"data":{"name":"m8"},"mark":{"type":"line","color":"#7E2F8E"},"encoding":{"x":{"field":"x","type":"quantitative","axis":{"values":[0,0.05,0.1,0.15,0.2,0.25,0.3,0.35,0.4],"format":"~g","title":"Position along fault (m)"}},"y":{"field":"y","type":"quantitative","axis":{"values":[0,0.1,0.2,0.3,0.4,0.5,0.6,0.7,0.8,0.9,1],"format":"~g","title":"Friction coefficient and slip (mm)"}},"order":{"value":null}}},
  {"data":{"name":"muS"},"mark":{"type":"line","color":"#77AC30"},"encoding":{"x":{"field":"x","type":"quantitative","axis":{"values":[0,0.05,0.1,0.15,0.2,0.25,0.3,0.35,0.4],"format":"~g","title":"Position along fault (m)"}},"y":{"field":"y","type":"quantitative","axis":{"values":[0,0.1,0.2,0.3,0.4,0.5,0.6,0.7,0.8,0.9,1],"format":"~g","title":"Friction coefficient and slip (mm)"}},"order":{"value":null}}},
  {"data":{"values":[{}]},"mark":{"type":"rect","fill":"white","stroke":"black","strokeWidth":2},"encoding":{"x":{"datum":0.3176,"type":"quantitative","axis":{"values":[0,0.05,0.1,0.15,0.2,0.25,0.3,0.35,0.4],"format":"~g","title":"Position along fault (m)"}},"x2":{"datum":0.382},"y":{"datum":0.063,"type":"quantitative","axis":{"values":[0,0.1,0.2,0.3,0.4,0.5,0.6,0.7,0.8,0.9,1],"format":"~g","title":"Friction coefficient and slip (mm)"}},"y2":{"datum":0.163}}},
  {"data":{"values":[{}]},"mark":{"type":"text","fontSize":20.5,"align":"center","baseline":"middle"},"encoding":{"x":{"datum":0.3498,"type":"quantitative","axis":{"values":[0,0.05,0.1,0.15,0.2,0.25,0.3,0.35,0.4],"format":"~g","title":"Position along fault (m)"}},"y":{"datum":0.113,"type":"quantitative","axis":{"values":[0,0.1,0.2,0.3,0.4,0.5,0.6,0.7,0.8,0.9,1],"format":"~g","title":"Friction coefficient and slip (mm)"}},"text":{"value":"245 µs"}}}
 ]}
],
"config": {
 "font": "Liberation Sans",
 "view": {"stroke": "#262626", "strokeWidth": 1},
 "line": {"strokeWidth": 2, "strokeJoin": "round"},
 "text": {"font": "Liberation Sans", "color": "black"},
 "axis": {"labelFont": "Liberation Sans", "labelFontSize": 13, "labelColor": "#262626", "titleFont": "Liberation Sans", "titleFontSize": 14.6, "titleFontWeight": "normal", "titleColor": "#262626", "domain": false, "grid": false, "tickColor": "#262626", "tickSize": -5, "tickWidth": 1, "labelPadding": 11, "labelFlush": false, "labelOverlap": false},
 "axisX": {"titlePadding": 5},
 "axisY": {"titlePadding": 8}
}
}
